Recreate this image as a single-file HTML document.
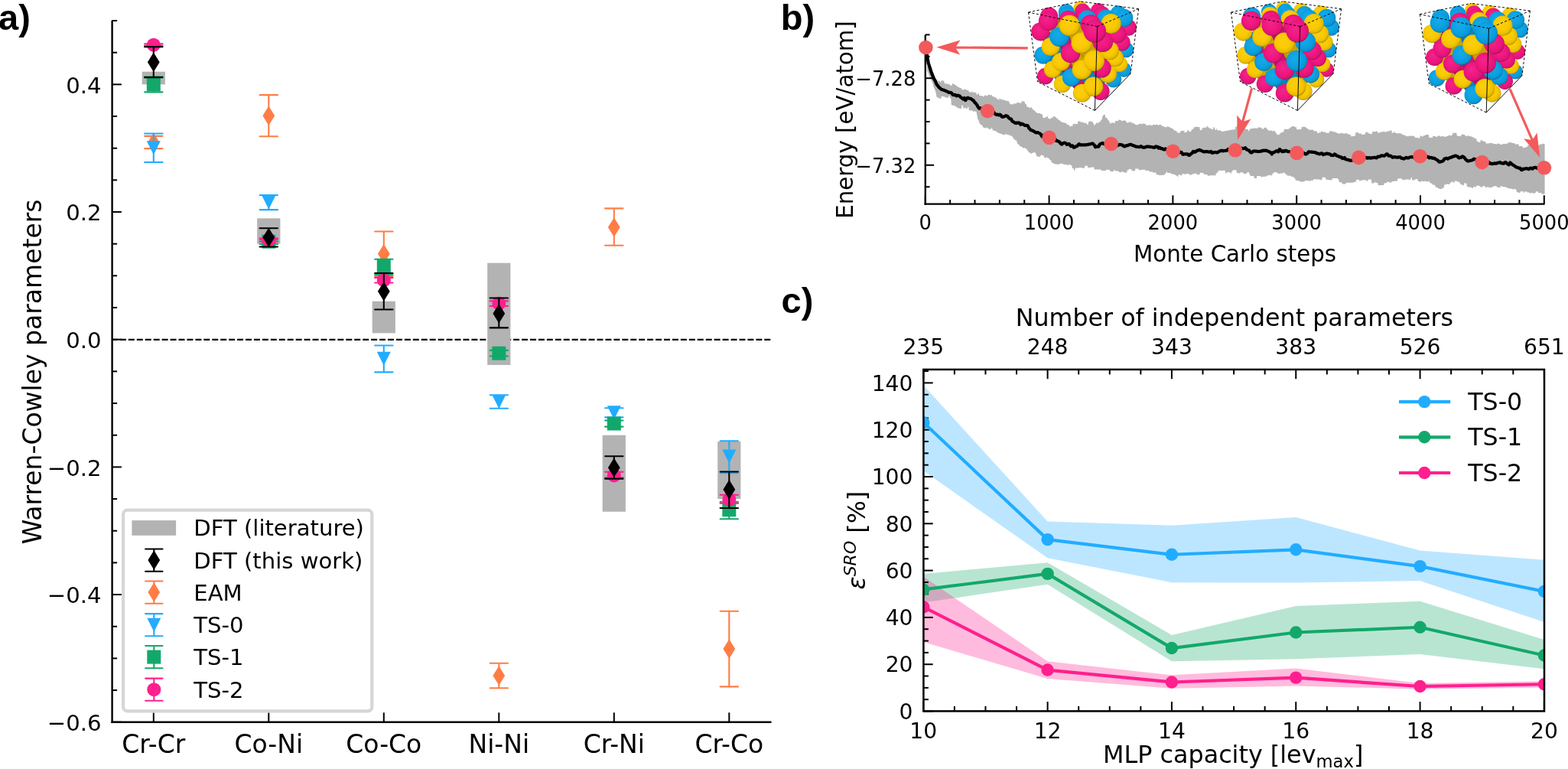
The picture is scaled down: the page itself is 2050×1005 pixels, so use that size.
<!DOCTYPE html>
<html><head><meta charset="utf-8"><style>html,body{margin:0;padding:0;background:#fff;}svg{display:block;}</style></head>
<body><svg width="2050" height="1005" viewBox="0 0 2050 1005"><defs><radialGradient id="gp0" cx="0.47" cy="0.45" r="0.56" fx="0.4" fy="0.36"><stop offset="0" stop-color="#f12689"/><stop offset="0.6" stop-color="#f01680"/><stop offset="0.87" stop-color="#dd1476"/><stop offset="0.96" stop-color="#bb1164"/><stop offset="1" stop-color="#840c46"/></radialGradient><radialGradient id="gp1" cx="0.47" cy="0.45" r="0.56" fx="0.4" fy="0.36"><stop offset="0" stop-color="#c41f6f"/><stop offset="0.6" stop-color="#c01266"/><stop offset="0.87" stop-color="#b1105e"/><stop offset="0.96" stop-color="#960e50"/><stop offset="1" stop-color="#6a0a38"/></radialGradient><radialGradient id="gp2" cx="0.47" cy="0.45" r="0.56" fx="0.4" fy="0.36"><stop offset="0" stop-color="#991857"/><stop offset="0.6" stop-color="#950e4f"/><stop offset="0.87" stop-color="#890d49"/><stop offset="0.96" stop-color="#740b3e"/><stop offset="1" stop-color="#52082c"/></radialGradient><radialGradient id="gy0" cx="0.47" cy="0.45" r="0.56" fx="0.4" fy="0.36"><stop offset="0" stop-color="#face12"/><stop offset="0.6" stop-color="#faca00"/><stop offset="0.87" stop-color="#e6ba00"/><stop offset="0.96" stop-color="#c39e00"/><stop offset="1" stop-color="#8a6f00"/></radialGradient><radialGradient id="gy1" cx="0.47" cy="0.45" r="0.56" fx="0.4" fy="0.36"><stop offset="0" stop-color="#cba70e"/><stop offset="0.6" stop-color="#c8a200"/><stop offset="0.87" stop-color="#b89500"/><stop offset="0.96" stop-color="#9c7e00"/><stop offset="1" stop-color="#6e5900"/></radialGradient><radialGradient id="gy2" cx="0.47" cy="0.45" r="0.56" fx="0.4" fy="0.36"><stop offset="0" stop-color="#9f830b"/><stop offset="0.6" stop-color="#9b7d00"/><stop offset="0.87" stop-color="#8f7300"/><stop offset="0.96" stop-color="#796200"/><stop offset="1" stop-color="#554500"/></radialGradient><radialGradient id="gb0" cx="0.47" cy="0.45" r="0.56" fx="0.4" fy="0.36"><stop offset="0" stop-color="#1ba9e6"/><stop offset="0.6" stop-color="#0aa2e4"/><stop offset="0.87" stop-color="#0995d2"/><stop offset="0.96" stop-color="#087eb2"/><stop offset="1" stop-color="#06597d"/></radialGradient><radialGradient id="gb1" cx="0.47" cy="0.45" r="0.56" fx="0.4" fy="0.36"><stop offset="0" stop-color="#1689ba"/><stop offset="0.6" stop-color="#0882b6"/><stop offset="0.87" stop-color="#0777a8"/><stop offset="0.96" stop-color="#06658e"/><stop offset="1" stop-color="#044764"/></radialGradient><radialGradient id="gb2" cx="0.47" cy="0.45" r="0.56" fx="0.4" fy="0.36"><stop offset="0" stop-color="#116b92"/><stop offset="0.6" stop-color="#06648d"/><stop offset="0.87" stop-color="#065c82"/><stop offset="0.96" stop-color="#054e6e"/><stop offset="1" stop-color="#03374e"/></radialGradient></defs><rect width="2050" height="1005" fill="#fff"/>
<text x="-2" y="39" font-family="'Liberation Sans', Arial, sans-serif" font-size="47" text-anchor="start" font-weight="bold" fill="#000" >a)</text>
<line x1="146" y1="443.9" x2="1007.5" y2="443.9" stroke="#000" stroke-width="2.1" stroke-dasharray="7.95 2.99"/>
<rect x="185.7" y="93.67" width="30.2" height="16.67" fill="#b3b3b3" />
<rect x="336.2" y="285.35" width="30.2" height="33.34" fill="#b3b3b3" />
<rect x="486.7" y="393.7" width="30.2" height="41.67" fill="#b3b3b3" />
<rect x="637.2" y="343.69" width="30.2" height="133.34" fill="#b3b3b3" />
<rect x="787.7" y="568.71" width="30.2" height="100.01" fill="#b3b3b3" />
<rect x="938.2" y="577.04" width="30.2" height="75.01" fill="#b3b3b3" />
<line x1="200.8" y1="194.1" x2="200.8" y2="177.85" stroke="#FF7D45" stroke-width="2.1" />
<line x1="189.1" y1="194.1" x2="212.5" y2="194.1" stroke="#FF7D45" stroke-width="2.1" stroke-linecap="round"/>
<line x1="189.1" y1="177.85" x2="212.5" y2="177.85" stroke="#FF7D45" stroke-width="2.1" stroke-linecap="round"/>
<polygon points="200.8,173.45 208.69,186.18 200.8,198.91 192.91,186.18" fill="#FF7D45" />
<line x1="351.3" y1="178.26" x2="351.3" y2="124.09" stroke="#FF7D45" stroke-width="2.1" />
<line x1="339.6" y1="178.26" x2="363" y2="178.26" stroke="#FF7D45" stroke-width="2.1" stroke-linecap="round"/>
<line x1="339.6" y1="124.09" x2="363" y2="124.09" stroke="#FF7D45" stroke-width="2.1" stroke-linecap="round"/>
<polygon points="351.3,138.45 359.19,151.18 351.3,163.9 343.41,151.18" fill="#FF7D45" />
<line x1="501.8" y1="360.94" x2="501.8" y2="302.52" stroke="#FF7D45" stroke-width="2.1" />
<line x1="490.1" y1="360.94" x2="513.5" y2="360.94" stroke="#FF7D45" stroke-width="2.1" stroke-linecap="round"/>
<line x1="490.1" y1="302.52" x2="513.5" y2="302.52" stroke="#FF7D45" stroke-width="2.1" stroke-linecap="round"/>
<polygon points="501.8,319.05 509.69,331.77 501.8,344.5 493.91,331.77" fill="#FF7D45" />
<line x1="652.3" y1="899.32" x2="652.3" y2="866.82" stroke="#FF7D45" stroke-width="2.1" />
<line x1="640.6" y1="899.32" x2="664" y2="899.32" stroke="#FF7D45" stroke-width="2.1" stroke-linecap="round"/>
<line x1="640.6" y1="866.82" x2="664" y2="866.82" stroke="#FF7D45" stroke-width="2.1" stroke-linecap="round"/>
<polygon points="652.3,870.17 660.19,882.9 652.3,895.63 644.41,882.9" fill="#FF7D45" />
<line x1="802.8" y1="320.77" x2="802.8" y2="272.35" stroke="#FF7D45" stroke-width="2.1" />
<line x1="791.1" y1="320.77" x2="814.5" y2="320.77" stroke="#FF7D45" stroke-width="2.1" stroke-linecap="round"/>
<line x1="791.1" y1="272.35" x2="814.5" y2="272.35" stroke="#FF7D45" stroke-width="2.1" stroke-linecap="round"/>
<polygon points="802.8,284.29 810.69,297.02 802.8,309.75 794.91,297.02" fill="#FF7D45" />
<line x1="953.3" y1="897.4" x2="953.3" y2="798.81" stroke="#FF7D45" stroke-width="2.1" />
<line x1="941.6" y1="897.4" x2="965" y2="897.4" stroke="#FF7D45" stroke-width="2.1" stroke-linecap="round"/>
<line x1="941.6" y1="798.81" x2="965" y2="798.81" stroke="#FF7D45" stroke-width="2.1" stroke-linecap="round"/>
<polygon points="953.3,835.34 961.19,848.07 953.3,860.79 945.41,848.07" fill="#FF7D45" />
<line x1="200.8" y1="212.01" x2="200.8" y2="174.51" stroke="#22ACFF" stroke-width="2.1" />
<line x1="189.1" y1="212.01" x2="212.5" y2="212.01" stroke="#22ACFF" stroke-width="2.1" stroke-linecap="round"/>
<line x1="189.1" y1="174.51" x2="212.5" y2="174.51" stroke="#22ACFF" stroke-width="2.1" stroke-linecap="round"/>
<polygon points="191.8,184.26 209.8,184.26 200.8,202.26" fill="#22ACFF" />
<line x1="351.3" y1="274.1" x2="351.3" y2="254.93" stroke="#22ACFF" stroke-width="2.1" />
<line x1="339.6" y1="274.1" x2="363" y2="274.1" stroke="#22ACFF" stroke-width="2.1" stroke-linecap="round"/>
<line x1="339.6" y1="254.93" x2="363" y2="254.93" stroke="#22ACFF" stroke-width="2.1" stroke-linecap="round"/>
<polygon points="342.3,255.52 360.3,255.52 351.3,273.52" fill="#22ACFF" />
<line x1="501.8" y1="486.37" x2="501.8" y2="451.53" stroke="#22ACFF" stroke-width="2.1" />
<line x1="490.1" y1="486.37" x2="513.5" y2="486.37" stroke="#22ACFF" stroke-width="2.1" stroke-linecap="round"/>
<line x1="490.1" y1="451.53" x2="513.5" y2="451.53" stroke="#22ACFF" stroke-width="2.1" stroke-linecap="round"/>
<polygon points="492.8,459.7 510.8,459.7 501.8,477.7" fill="#22ACFF" />
<line x1="652.3" y1="533.71" x2="652.3" y2="516.21" stroke="#22ACFF" stroke-width="2.1" />
<line x1="640.6" y1="533.71" x2="664" y2="533.71" stroke="#22ACFF" stroke-width="2.1" stroke-linecap="round"/>
<line x1="640.6" y1="516.21" x2="664" y2="516.21" stroke="#22ACFF" stroke-width="2.1" stroke-linecap="round"/>
<polygon points="643.3,516.04 661.3,516.04 652.3,534.04" fill="#22ACFF" />
<line x1="802.8" y1="545.37" x2="802.8" y2="533.21" stroke="#22ACFF" stroke-width="2.1" />
<line x1="791.1" y1="545.37" x2="814.5" y2="545.37" stroke="#22ACFF" stroke-width="2.1" stroke-linecap="round"/>
<line x1="791.1" y1="533.21" x2="814.5" y2="533.21" stroke="#22ACFF" stroke-width="2.1" stroke-linecap="round"/>
<polygon points="793.8,530.29 811.8,530.29 802.8,548.29" fill="#22ACFF" />
<line x1="953.3" y1="618.3" x2="953.3" y2="576.21" stroke="#22ACFF" stroke-width="2.1" />
<line x1="941.6" y1="618.3" x2="965" y2="618.3" stroke="#22ACFF" stroke-width="2.1" stroke-linecap="round"/>
<line x1="941.6" y1="576.21" x2="965" y2="576.21" stroke="#22ACFF" stroke-width="2.1" stroke-linecap="round"/>
<polygon points="944.3,587.55 962.3,587.55 953.3,605.55" fill="#22ACFF" />
<line x1="200.8" y1="120.34" x2="200.8" y2="100.34" stroke="#13A86B" stroke-width="2.1" />
<line x1="189.1" y1="120.34" x2="212.5" y2="120.34" stroke="#13A86B" stroke-width="2.1" stroke-linecap="round"/>
<line x1="189.1" y1="100.34" x2="212.5" y2="100.34" stroke="#13A86B" stroke-width="2.1" stroke-linecap="round"/>
<rect x="191.8" y="101.34" width="18" height="18" fill="#13A86B" />
<line x1="351.3" y1="318.94" x2="351.3" y2="313.19" stroke="#13A86B" stroke-width="2.1" />
<line x1="339.6" y1="318.94" x2="363" y2="318.94" stroke="#13A86B" stroke-width="2.1" stroke-linecap="round"/>
<line x1="339.6" y1="313.19" x2="363" y2="313.19" stroke="#13A86B" stroke-width="2.1" stroke-linecap="round"/>
<rect x="342.3" y="306.69" width="18" height="18" fill="#13A86B" />
<line x1="501.8" y1="358.94" x2="501.8" y2="338.69" stroke="#13A86B" stroke-width="2.1" />
<line x1="490.1" y1="358.94" x2="513.5" y2="358.94" stroke="#13A86B" stroke-width="2.1" stroke-linecap="round"/>
<line x1="490.1" y1="338.69" x2="513.5" y2="338.69" stroke="#13A86B" stroke-width="2.1" stroke-linecap="round"/>
<rect x="492.8" y="339.03" width="18" height="18" fill="#13A86B" />
<line x1="652.3" y1="465.54" x2="652.3" y2="457.87" stroke="#13A86B" stroke-width="2.1" />
<line x1="640.6" y1="465.54" x2="664" y2="465.54" stroke="#13A86B" stroke-width="2.1" stroke-linecap="round"/>
<line x1="640.6" y1="457.87" x2="664" y2="457.87" stroke="#13A86B" stroke-width="2.1" stroke-linecap="round"/>
<rect x="643.3" y="452.7" width="18" height="18" fill="#13A86B" />
<line x1="802.8" y1="557.63" x2="802.8" y2="549.54" stroke="#13A86B" stroke-width="2.1" />
<line x1="791.1" y1="557.63" x2="814.5" y2="557.63" stroke="#13A86B" stroke-width="2.1" stroke-linecap="round"/>
<line x1="791.1" y1="549.54" x2="814.5" y2="549.54" stroke="#13A86B" stroke-width="2.1" stroke-linecap="round"/>
<rect x="793.8" y="544.54" width="18" height="18" fill="#13A86B" />
<line x1="953.3" y1="678.3" x2="953.3" y2="655.72" stroke="#13A86B" stroke-width="2.1" />
<line x1="941.6" y1="678.3" x2="965" y2="678.3" stroke="#13A86B" stroke-width="2.1" stroke-linecap="round"/>
<line x1="941.6" y1="655.72" x2="965" y2="655.72" stroke="#13A86B" stroke-width="2.1" stroke-linecap="round"/>
<rect x="944.3" y="657.22" width="18" height="18" fill="#13A86B" />
<line x1="200.8" y1="59.92" x2="200.8" y2="57.42" stroke="#FF1F8E" stroke-width="2.1" />
<line x1="189.1" y1="59.92" x2="212.5" y2="59.92" stroke="#FF1F8E" stroke-width="2.1" stroke-linecap="round"/>
<line x1="189.1" y1="57.42" x2="212.5" y2="57.42" stroke="#FF1F8E" stroke-width="2.1" stroke-linecap="round"/>
<circle cx="200.8" cy="58.67" r="9" fill="#FF1F8E" />
<line x1="351.3" y1="315.77" x2="351.3" y2="311.61" stroke="#FF1F8E" stroke-width="2.1" />
<line x1="339.6" y1="315.77" x2="363" y2="315.77" stroke="#FF1F8E" stroke-width="2.1" stroke-linecap="round"/>
<line x1="339.6" y1="311.61" x2="363" y2="311.61" stroke="#FF1F8E" stroke-width="2.1" stroke-linecap="round"/>
<circle cx="351.3" cy="313.69" r="9" fill="#FF1F8E" />
<line x1="501.8" y1="369.53" x2="501.8" y2="362.86" stroke="#FF1F8E" stroke-width="2.1" />
<line x1="490.1" y1="369.53" x2="513.5" y2="369.53" stroke="#FF1F8E" stroke-width="2.1" stroke-linecap="round"/>
<line x1="490.1" y1="362.86" x2="513.5" y2="362.86" stroke="#FF1F8E" stroke-width="2.1" stroke-linecap="round"/>
<circle cx="501.8" cy="366.19" r="9" fill="#FF1F8E" />
<line x1="652.3" y1="400.03" x2="652.3" y2="393.36" stroke="#FF1F8E" stroke-width="2.1" />
<line x1="640.6" y1="400.03" x2="664" y2="400.03" stroke="#FF1F8E" stroke-width="2.1" stroke-linecap="round"/>
<line x1="640.6" y1="393.36" x2="664" y2="393.36" stroke="#FF1F8E" stroke-width="2.1" stroke-linecap="round"/>
<circle cx="652.3" cy="396.7" r="9" fill="#FF1F8E" />
<line x1="802.8" y1="624.38" x2="802.8" y2="616.71" stroke="#FF1F8E" stroke-width="2.1" />
<line x1="791.1" y1="624.38" x2="814.5" y2="624.38" stroke="#FF1F8E" stroke-width="2.1" stroke-linecap="round"/>
<line x1="791.1" y1="616.71" x2="814.5" y2="616.71" stroke="#FF1F8E" stroke-width="2.1" stroke-linecap="round"/>
<circle cx="802.8" cy="621.38" r="9" fill="#FF1F8E" />
<line x1="953.3" y1="657.63" x2="953.3" y2="646.72" stroke="#FF1F8E" stroke-width="2.1" />
<line x1="941.6" y1="657.63" x2="965" y2="657.63" stroke="#FF1F8E" stroke-width="2.1" stroke-linecap="round"/>
<line x1="941.6" y1="646.72" x2="965" y2="646.72" stroke="#FF1F8E" stroke-width="2.1" stroke-linecap="round"/>
<circle cx="953.3" cy="652.72" r="9" fill="#FF1F8E" />
<line x1="200.8" y1="101.17" x2="200.8" y2="61.17" stroke="#000" stroke-width="2.1" />
<line x1="189.1" y1="101.17" x2="212.5" y2="101.17" stroke="#000" stroke-width="2.1" stroke-linecap="round"/>
<line x1="189.1" y1="61.17" x2="212.5" y2="61.17" stroke="#000" stroke-width="2.1" stroke-linecap="round"/>
<polygon points="200.8,68.44 208.69,81.17 200.8,93.9 192.91,81.17" fill="#000" />
<line x1="351.3" y1="322.44" x2="351.3" y2="298.27" stroke="#000" stroke-width="2.1" />
<line x1="339.6" y1="322.44" x2="363" y2="322.44" stroke="#000" stroke-width="2.1" stroke-linecap="round"/>
<line x1="339.6" y1="298.27" x2="363" y2="298.27" stroke="#000" stroke-width="2.1" stroke-linecap="round"/>
<polygon points="351.3,297.63 359.19,310.36 351.3,323.08 343.41,310.36" fill="#000" />
<line x1="501.8" y1="404.53" x2="501.8" y2="357.03" stroke="#000" stroke-width="2.1" />
<line x1="490.1" y1="404.53" x2="513.5" y2="404.53" stroke="#000" stroke-width="2.1" stroke-linecap="round"/>
<line x1="490.1" y1="357.03" x2="513.5" y2="357.03" stroke="#000" stroke-width="2.1" stroke-linecap="round"/>
<polygon points="501.8,368.13 509.69,380.86 501.8,393.59 493.91,380.86" fill="#000" />
<line x1="652.3" y1="428.37" x2="652.3" y2="389.53" stroke="#000" stroke-width="2.1" />
<line x1="640.6" y1="428.37" x2="664" y2="428.37" stroke="#000" stroke-width="2.1" stroke-linecap="round"/>
<line x1="640.6" y1="389.53" x2="664" y2="389.53" stroke="#000" stroke-width="2.1" stroke-linecap="round"/>
<polygon points="652.3,397.14 660.19,409.86 652.3,422.59 644.41,409.86" fill="#000" />
<line x1="802.8" y1="625.63" x2="802.8" y2="596.21" stroke="#000" stroke-width="2.1" />
<line x1="791.1" y1="625.63" x2="814.5" y2="625.63" stroke="#000" stroke-width="2.1" stroke-linecap="round"/>
<line x1="791.1" y1="596.21" x2="814.5" y2="596.21" stroke="#000" stroke-width="2.1" stroke-linecap="round"/>
<polygon points="802.8,598.4 810.69,611.13 802.8,623.86 794.91,611.13" fill="#000" />
<line x1="953.3" y1="663.97" x2="953.3" y2="616.55" stroke="#000" stroke-width="2.1" />
<line x1="941.6" y1="663.97" x2="965" y2="663.97" stroke="#000" stroke-width="2.1" stroke-linecap="round"/>
<line x1="941.6" y1="616.55" x2="965" y2="616.55" stroke="#000" stroke-width="2.1" stroke-linecap="round"/>
<polygon points="953.3,627.07 961.19,639.8 953.3,652.53 945.41,639.8" fill="#000" />
<line x1="146.6" y1="26.8" x2="146.6" y2="944.9" stroke="#000" stroke-width="2.4" />
<line x1="145.4" y1="943.7" x2="1008.5" y2="943.7" stroke="#000" stroke-width="2.4" />
<line x1="146.6" y1="943.74" x2="158.9" y2="943.74" stroke="#000" stroke-width="2" />
<text x="132.6" y="954.94" font-family="'DejaVu Sans', sans-serif" font-size="29.2" text-anchor="end" font-weight="normal" fill="#000" >−0.6</text>
<line x1="146.6" y1="902.07" x2="153.1" y2="902.07" stroke="#000" stroke-width="2" />
<line x1="146.6" y1="860.4" x2="153.1" y2="860.4" stroke="#000" stroke-width="2" />
<line x1="146.6" y1="818.73" x2="153.1" y2="818.73" stroke="#000" stroke-width="2" />
<line x1="146.6" y1="777.06" x2="158.9" y2="777.06" stroke="#000" stroke-width="2" />
<text x="132.6" y="788.26" font-family="'DejaVu Sans', sans-serif" font-size="29.2" text-anchor="end" font-weight="normal" fill="#000" >−0.4</text>
<line x1="146.6" y1="735.39" x2="153.1" y2="735.39" stroke="#000" stroke-width="2" />
<line x1="146.6" y1="693.72" x2="153.1" y2="693.72" stroke="#000" stroke-width="2" />
<line x1="146.6" y1="652.05" x2="153.1" y2="652.05" stroke="#000" stroke-width="2" />
<line x1="146.6" y1="610.38" x2="158.9" y2="610.38" stroke="#000" stroke-width="2" />
<text x="132.6" y="621.58" font-family="'DejaVu Sans', sans-serif" font-size="29.2" text-anchor="end" font-weight="normal" fill="#000" >−0.2</text>
<line x1="146.6" y1="568.71" x2="153.1" y2="568.71" stroke="#000" stroke-width="2" />
<line x1="146.6" y1="527.04" x2="153.1" y2="527.04" stroke="#000" stroke-width="2" />
<line x1="146.6" y1="485.37" x2="153.1" y2="485.37" stroke="#000" stroke-width="2" />
<line x1="146.6" y1="443.7" x2="158.9" y2="443.7" stroke="#000" stroke-width="2" />
<text x="132.6" y="454.9" font-family="'DejaVu Sans', sans-serif" font-size="29.2" text-anchor="end" font-weight="normal" fill="#000" >0.0</text>
<line x1="146.6" y1="402.03" x2="153.1" y2="402.03" stroke="#000" stroke-width="2" />
<line x1="146.6" y1="360.36" x2="153.1" y2="360.36" stroke="#000" stroke-width="2" />
<line x1="146.6" y1="318.69" x2="153.1" y2="318.69" stroke="#000" stroke-width="2" />
<line x1="146.6" y1="277.02" x2="158.9" y2="277.02" stroke="#000" stroke-width="2" />
<text x="132.6" y="288.22" font-family="'DejaVu Sans', sans-serif" font-size="29.2" text-anchor="end" font-weight="normal" fill="#000" >0.2</text>
<line x1="146.6" y1="235.35" x2="153.1" y2="235.35" stroke="#000" stroke-width="2" />
<line x1="146.6" y1="193.68" x2="153.1" y2="193.68" stroke="#000" stroke-width="2" />
<line x1="146.6" y1="152.01" x2="153.1" y2="152.01" stroke="#000" stroke-width="2" />
<line x1="146.6" y1="110.34" x2="158.9" y2="110.34" stroke="#000" stroke-width="2" />
<text x="132.6" y="121.54" font-family="'DejaVu Sans', sans-serif" font-size="29.2" text-anchor="end" font-weight="normal" fill="#000" >0.4</text>
<line x1="146.6" y1="68.67" x2="153.1" y2="68.67" stroke="#000" stroke-width="2" />
<line x1="146.6" y1="27" x2="153.1" y2="27" stroke="#000" stroke-width="2" />
<line x1="200.8" y1="943.7" x2="200.8" y2="931.3" stroke="#000" stroke-width="2" />
<text x="200.8" y="983.7" font-family="'DejaVu Sans', sans-serif" font-size="33" text-anchor="middle" font-weight="normal" fill="#000" >Cr-Cr</text>
<line x1="351.3" y1="943.7" x2="351.3" y2="931.3" stroke="#000" stroke-width="2" />
<text x="351.3" y="983.7" font-family="'DejaVu Sans', sans-serif" font-size="33" text-anchor="middle" font-weight="normal" fill="#000" >Co-Ni</text>
<line x1="501.8" y1="943.7" x2="501.8" y2="931.3" stroke="#000" stroke-width="2" />
<text x="501.8" y="983.7" font-family="'DejaVu Sans', sans-serif" font-size="33" text-anchor="middle" font-weight="normal" fill="#000" >Co-Co</text>
<line x1="652.3" y1="943.7" x2="652.3" y2="931.3" stroke="#000" stroke-width="2" />
<text x="652.3" y="983.7" font-family="'DejaVu Sans', sans-serif" font-size="33" text-anchor="middle" font-weight="normal" fill="#000" >Ni-Ni</text>
<line x1="802.8" y1="943.7" x2="802.8" y2="931.3" stroke="#000" stroke-width="2" />
<text x="802.8" y="983.7" font-family="'DejaVu Sans', sans-serif" font-size="33" text-anchor="middle" font-weight="normal" fill="#000" >Cr-Ni</text>
<line x1="953.3" y1="943.7" x2="953.3" y2="931.3" stroke="#000" stroke-width="2" />
<text x="953.3" y="983.7" font-family="'DejaVu Sans', sans-serif" font-size="33" text-anchor="middle" font-weight="normal" fill="#000" >Cr-Co</text>
<text x="0" y="0" font-family="'DejaVu Sans', sans-serif" font-size="33" text-anchor="middle" font-weight="normal" fill="#000" transform="translate(53.7,485.9) rotate(-90)">Warren-Cowley parameters</text>
<rect x="161.1" y="666.6" width="325.2" height="262.7" rx="5.5" ry="5.5" fill="#fff" stroke="#d6d6d6" stroke-width="4.2"/>
<rect x="172.4" y="680.1" width="57.7" height="19.7" fill="#b3b3b3" />
<line x1="201.3" y1="746.7" x2="201.3" y2="717.5" stroke="#000" stroke-width="2.1" />
<line x1="190.1" y1="746.7" x2="212.5" y2="746.7" stroke="#000" stroke-width="2.1" stroke-linecap="round"/>
<line x1="190.1" y1="717.5" x2="212.5" y2="717.5" stroke="#000" stroke-width="2.1" stroke-linecap="round"/>
<polygon points="201.3,719.37 209.19,732.1 201.3,744.83 193.41,732.1" fill="#000" />
<line x1="201.3" y1="788.7" x2="201.3" y2="759.5" stroke="#FF7D45" stroke-width="2.1" />
<line x1="190.1" y1="788.7" x2="212.5" y2="788.7" stroke="#FF7D45" stroke-width="2.1" stroke-linecap="round"/>
<line x1="190.1" y1="759.5" x2="212.5" y2="759.5" stroke="#FF7D45" stroke-width="2.1" stroke-linecap="round"/>
<polygon points="201.3,761.37 209.19,774.1 201.3,786.83 193.41,774.1" fill="#FF7D45" />
<line x1="201.3" y1="831.3" x2="201.3" y2="802.1" stroke="#22ACFF" stroke-width="2.1" />
<line x1="190.1" y1="831.3" x2="212.5" y2="831.3" stroke="#22ACFF" stroke-width="2.1" stroke-linecap="round"/>
<line x1="190.1" y1="802.1" x2="212.5" y2="802.1" stroke="#22ACFF" stroke-width="2.1" stroke-linecap="round"/>
<polygon points="192.3,807.7 210.3,807.7 201.3,825.7" fill="#22ACFF" />
<line x1="201.3" y1="873.2" x2="201.3" y2="844" stroke="#13A86B" stroke-width="2.1" />
<line x1="190.1" y1="873.2" x2="212.5" y2="873.2" stroke="#13A86B" stroke-width="2.1" stroke-linecap="round"/>
<line x1="190.1" y1="844" x2="212.5" y2="844" stroke="#13A86B" stroke-width="2.1" stroke-linecap="round"/>
<rect x="192.3" y="849.6" width="18" height="18" fill="#13A86B" />
<line x1="201.3" y1="915.8" x2="201.3" y2="886.6" stroke="#FF1F8E" stroke-width="2.1" />
<line x1="190.1" y1="915.8" x2="212.5" y2="915.8" stroke="#FF1F8E" stroke-width="2.1" stroke-linecap="round"/>
<line x1="190.1" y1="886.6" x2="212.5" y2="886.6" stroke="#FF1F8E" stroke-width="2.1" stroke-linecap="round"/>
<circle cx="201.3" cy="901.2" r="9" fill="#FF1F8E" />
<text x="253.3" y="700.2" font-family="'DejaVu Sans', sans-serif" font-size="29.1" text-anchor="start" font-weight="normal" fill="#000" >DFT (literature)</text>
<text x="253.3" y="742.7" font-family="'DejaVu Sans', sans-serif" font-size="29.1" text-anchor="start" font-weight="normal" fill="#000" >DFT (this work)</text>
<text x="253.3" y="784.7" font-family="'DejaVu Sans', sans-serif" font-size="29.1" text-anchor="start" font-weight="normal" fill="#000" >EAM</text>
<text x="253.3" y="827.3" font-family="'DejaVu Sans', sans-serif" font-size="29.1" text-anchor="start" font-weight="normal" fill="#000" >TS-0</text>
<text x="253.3" y="869.2" font-family="'DejaVu Sans', sans-serif" font-size="29.1" text-anchor="start" font-weight="normal" fill="#000" >TS-1</text>
<text x="253.3" y="911.8" font-family="'DejaVu Sans', sans-serif" font-size="29.1" text-anchor="start" font-weight="normal" fill="#000" >TS-2</text>
<text x="1020.7" y="39" font-family="'Liberation Sans', Arial, sans-serif" font-size="47" text-anchor="start" font-weight="bold" fill="#000" >b)</text>
<polygon points="1210.3,62 1210.8,64.95 1211.3,67.9 1211.8,77.84 1212.3,86.04 1212.8,87.23 1213.3,85.72 1213.8,86.91 1214.3,88.1 1214.8,89.29 1215.3,90.48 1215.8,91.67 1216.3,92.93 1216.8,94.12 1217.3,95.3 1217.8,96.56 1218.3,96.73 1218.8,96.89 1219.3,97.06 1219.8,97.23 1220.3,97.39 1220.8,97.56 1221.3,99.8 1221.8,99.97 1222.3,100.14 1222.8,102.1 1223.3,102.66 1223.8,103.31 1224.3,103.97 1224.8,104.22 1225.3,104.88 1225.8,105.54 1226.3,106.2 1226.8,106.85 1227.3,104.69 1227.8,105.35 1228.3,106.01 1228.8,106.14 1229.3,107.24 1229.8,107.36 1230.3,107.49 1230.8,104.93 1231.3,105.06 1231.8,105.19 1232.3,105.31 1232.8,105.44 1233.3,105.57 1233.8,105.69 1234.3,105.82 1234.8,109.2 1235.3,109.33 1235.8,109.36 1236.3,109.36 1236.8,109.36 1237.3,109.36 1237.8,109.36 1238.3,109.78 1238.8,109.78 1239.3,109.78 1239.8,109.78 1240.3,109.78 1240.8,110.26 1241.3,110.26 1241.8,110.26 1242.3,111.71 1242.8,111.71 1243.3,111.71 1243.8,111.71 1244.3,111.71 1244.8,111.71 1245.3,109.1 1245.8,109.1 1246.3,109.17 1246.8,109.55 1247.3,109.92 1247.8,110.3 1248.3,110.67 1248.8,111.05 1249.3,111.17 1249.8,111.55 1250.3,111.92 1250.8,112.3 1251.3,112.67 1251.8,113.05 1252.3,113.3 1252.8,113.67 1253.3,114.05 1253.8,114.25 1254.3,114.42 1254.8,114.59 1255.3,114.76 1255.8,114.93 1256.3,115.1 1256.8,115.26 1257.3,116.81 1257.8,116.98 1258.3,117.15 1258.8,117.32 1259.3,117.49 1259.8,117.66 1260.3,116.35 1260.8,116.52 1261.3,116.69 1261.8,116.86 1262.3,117.03 1262.8,117.19 1263.3,117.36 1263.8,117.52 1264.3,117.68 1264.8,117.82 1265.3,117.96 1265.8,118.1 1266.3,118.24 1266.8,119.99 1267.3,120.13 1267.8,120.27 1268.3,120.41 1268.8,120.55 1269.3,120.69 1269.8,120.83 1270.3,119.19 1270.8,119.33 1271.3,119.47 1271.8,120.75 1272.3,120.89 1272.8,121.03 1273.3,120.44 1273.8,120.58 1274.3,120.72 1274.8,120.86 1275.3,121 1275.8,121.14 1276.3,121.28 1276.8,123.69 1277.3,123.78 1277.8,123.86 1278.3,122.16 1278.8,122.25 1279.3,122.33 1279.8,122.41 1280.3,124.81 1280.8,124.89 1281.3,124.98 1281.8,125.06 1282.3,125.14 1282.8,125.23 1283.3,125.31 1283.8,125.39 1284.3,125.48 1284.8,125.56 1285.3,126.1 1285.8,126.18 1286.3,126.27 1286.8,126.35 1287.3,124.26 1287.8,124.41 1288.3,124.58 1288.8,124.75 1289.3,124.92 1289.8,125.09 1290.3,125.25 1290.8,125.42 1291.3,125.59 1291.8,123.39 1292.3,123.55 1292.8,123.72 1293.3,123.89 1293.8,124.06 1294.3,124.22 1294.8,124.39 1295.3,123.89 1295.8,124.06 1296.3,124.23 1296.8,124.39 1297.3,125.83 1297.8,126 1298.3,126.17 1298.8,126.34 1299.3,126.5 1299.8,126.67 1300.3,126.84 1300.8,127.01 1301.3,127.18 1301.8,127.8 1302.3,127.97 1302.8,128.14 1303.3,128.31 1303.8,129.43 1304.3,129.68 1304.8,129.93 1305.3,130.18 1305.8,130.43 1306.3,130.68 1306.8,128.48 1307.3,128.73 1307.8,128.98 1308.3,129.86 1308.8,130.11 1309.3,130.36 1309.8,129.88 1310.3,130.13 1310.8,130.34 1311.3,130.38 1311.8,130.43 1312.3,130.48 1312.8,130.52 1313.3,130.57 1313.8,131.43 1314.3,131.48 1314.8,131.52 1315.3,131.57 1315.8,131.61 1316.3,131.66 1316.8,131.7 1317.3,131.75 1317.8,132.14 1318.3,132.19 1318.8,132.23 1319.3,132.28 1319.8,135.4 1320.3,135.44 1320.8,135.49 1321.3,135.53 1321.8,136.22 1322.3,136.27 1322.8,136.31 1323.3,136.36 1323.8,136.41 1324.3,136.45 1324.8,136.5 1325.3,135.23 1325.8,135.28 1326.3,135.32 1326.8,135.37 1327.3,135.42 1327.8,135.46 1328.3,135.51 1328.8,135.55 1329.3,134.12 1329.8,134.16 1330.3,134.21 1330.8,133.75 1331.3,133.88 1331.8,134 1332.3,134.13 1332.8,134.26 1333.3,134.38 1333.8,134.51 1334.3,134.63 1334.8,134.76 1335.3,134.89 1335.8,131.92 1336.3,132.05 1336.8,132.17 1337.3,132.3 1337.8,132.42 1338.3,132.55 1338.8,132.68 1339.3,132.8 1339.8,132.93 1340.3,135.91 1340.8,136.04 1341.3,136.17 1341.8,136.29 1342.3,139.36 1342.8,139.49 1343.3,139.61 1343.8,139.74 1344.3,139.87 1344.8,140.05 1345.3,140.44 1345.8,140.83 1346.3,141.23 1346.8,141.62 1347.3,139.66 1347.8,140.06 1348.3,140.45 1348.8,140.85 1349.3,141.24 1349.8,142.51 1350.3,142.9 1350.8,143.3 1351.3,143.69 1351.8,144.09 1352.3,144.48 1352.8,144.88 1353.3,145.27 1353.8,145.63 1354.3,146.85 1354.8,147.07 1355.3,147.28 1355.8,147.5 1356.3,147.72 1356.8,147.93 1357.3,148.15 1357.8,148.36 1358.3,147.64 1358.8,147.86 1359.3,148.07 1359.8,148.29 1360.3,148.5 1360.8,148.72 1361.3,148.94 1361.8,149.15 1362.3,149.37 1362.8,149.58 1363.3,153.58 1363.8,153.79 1364.3,154.01 1364.8,154.23 1365.3,153.88 1365.8,154.1 1366.3,154.3 1366.8,152.93 1367.3,153.07 1367.8,153.2 1368.3,153.34 1368.8,151.84 1369.3,151.97 1369.8,152.11 1370.3,154.63 1370.8,154.77 1371.3,154.91 1371.8,155.04 1372.3,155.18 1372.8,155.31 1373.3,155.45 1373.8,155.59 1374.3,153.39 1374.8,153.53 1375.3,153.68 1375.8,153.85 1376.3,154.01 1376.8,154.18 1377.3,151.66 1377.8,151.82 1378.3,151.99 1378.8,152.23 1379.3,152.59 1379.8,152.94 1380.3,153.3 1380.8,153.65 1381.3,154.01 1381.8,154.86 1382.3,155.21 1382.8,155.57 1383.3,155.92 1383.8,156.28 1384.3,156.64 1384.8,156.99 1385.3,157.35 1385.8,157.7 1386.3,158.06 1386.8,158.87 1387.3,159.1 1387.8,159.3 1388.3,159.5 1388.8,159.7 1389.3,159.9 1389.8,160.1 1390.3,160.3 1390.8,160.5 1391.3,160.18 1391.8,160.38 1392.3,160.58 1392.8,160.78 1393.3,160.94 1393.8,161.09 1394.3,161.24 1394.8,162.6 1395.3,162.75 1395.8,162.9 1396.3,163.05 1396.8,163.2 1397.3,163.35 1397.8,163.5 1398.3,165 1398.8,165.15 1399.3,165.13 1399.8,164.94 1400.3,164.87 1400.8,164.8 1401.3,164.74 1401.8,164.67 1402.3,164.6 1402.8,162.02 1403.3,161.95 1403.8,161.89 1404.3,161.82 1404.8,161.75 1405.3,161.69 1405.8,162.18 1406.3,162.12 1406.8,162.05 1407.3,162.15 1407.8,162.08 1408.3,162.02 1408.8,161.95 1409.3,158.75 1409.8,158.68 1410.3,158.61 1410.8,158.55 1411.3,158.48 1411.8,158.41 1412.3,158.35 1412.8,159.91 1413.3,159.84 1413.8,159.78 1414.3,159.71 1414.8,159.64 1415.3,159.58 1415.8,159.51 1416.3,159.44 1416.8,160.97 1417.3,160.9 1417.8,160.82 1418.3,160.74 1418.8,160.67 1419.3,160.59 1419.8,160.52 1420.3,160.44 1420.8,162.8 1421.3,162.73 1421.8,162.65 1422.3,162.58 1422.8,162.5 1423.3,158.68 1423.8,158.61 1424.3,158.53 1424.8,158.78 1425.3,158.71 1425.8,158.63 1426.3,158.56 1426.8,158.48 1427.3,159.36 1427.8,159.29 1428.3,159.21 1428.8,159.4 1429.3,160.65 1429.8,161.9 1430.3,163.15 1430.8,164.4 1431.3,163.19 1431.8,162.69 1432.3,162.19 1432.8,161.69 1433.3,161.19 1433.8,160.69 1434.3,160.19 1434.8,159.69 1435.3,161.15 1435.8,160.65 1436.3,160.15 1436.8,159.65 1437.3,159.86 1437.8,159.26 1438.3,158.66 1438.8,158.06 1439.3,157.46 1439.8,156.86 1440.3,156.25 1440.8,155.65 1441.3,152.15 1441.8,151.55 1442.3,150.95 1442.8,150.35 1443.3,150.11 1443.8,150.11 1444.3,150.11 1444.8,150.11 1445.3,154.11 1445.8,154.11 1446.3,154.11 1446.8,153.29 1447.3,154.29 1447.8,155.29 1448.3,156.29 1448.8,157.29 1449.3,157.73 1449.8,157.78 1450.3,157.83 1450.8,161.15 1451.3,161.2 1451.8,161.25 1452.3,161.31 1452.8,161.36 1453.3,160.23 1453.8,160.28 1454.3,160.34 1454.8,160.39 1455.3,160.44 1455.8,160.5 1456.3,160.55 1456.8,160.6 1457.3,160.66 1457.8,160.71 1458.3,157.86 1458.8,157.91 1459.3,157.96 1459.8,158.02 1460.3,158.07 1460.8,158.12 1461.3,158.18 1461.8,158.23 1462.3,156.5 1462.8,156.56 1463.3,156.61 1463.8,156.66 1464.3,156.72 1464.8,156.77 1465.3,156.82 1465.8,156.88 1466.3,158.43 1466.8,158.48 1467.3,158.53 1467.8,157.32 1468.3,157.38 1468.8,157.43 1469.3,157.48 1469.8,157.54 1470.3,157.59 1470.8,157.64 1471.3,157.69 1471.8,157.74 1472.3,157.79 1472.8,160.25 1473.3,160.3 1473.8,160.35 1474.3,160.4 1474.8,160.45 1475.3,160.5 1475.8,159.36 1476.3,159.41 1476.8,159.46 1477.3,159.51 1477.8,159.56 1478.3,159.61 1478.8,159.66 1479.3,160.1 1479.8,160.15 1480.3,160.2 1480.8,161.26 1481.3,161.31 1481.8,161.36 1482.3,161.41 1482.8,161.46 1483.3,161.51 1483.8,161.56 1484.3,162.9 1484.8,162.95 1485.3,163 1485.8,163.05 1486.3,163.1 1486.8,163.15 1487.3,163.2 1487.8,163.25 1488.3,163.3 1488.8,161.71 1489.3,161.76 1489.8,161.81 1490.3,161.86 1490.8,161.91 1491.3,161.97 1491.8,162.02 1492.3,162.07 1492.8,162.12 1493.3,162.17 1493.8,161.35 1494.3,161.4 1494.8,161.48 1495.3,161.55 1495.8,161.63 1496.3,161.7 1496.8,161.78 1497.3,161.85 1497.8,161.93 1498.3,163.65 1498.8,163.73 1499.3,163.8 1499.8,163.88 1500.3,163.96 1500.8,163.29 1501.3,163.37 1501.8,163.45 1502.3,163.52 1502.8,163.39 1503.3,163.47 1503.8,163.55 1504.3,163.62 1504.8,163.7 1505.3,163.77 1505.8,163.85 1506.3,163.92 1506.8,164 1507.3,162.76 1507.8,162.83 1508.3,162.91 1508.8,162.99 1509.3,163.06 1509.8,163.14 1510.3,163.21 1510.8,163.29 1511.3,163.36 1511.8,162.4 1512.3,162.48 1512.8,162.56 1513.3,162.63 1513.8,163.81 1514.3,163.89 1514.8,163.96 1515.3,162.88 1515.8,162.96 1516.3,163.03 1516.8,163.11 1517.3,163.19 1517.8,163.26 1518.3,163.36 1518.8,163.52 1519.3,164.72 1519.8,164.89 1520.3,165.05 1520.8,165.22 1521.3,165.23 1521.8,165.39 1522.3,165.56 1522.8,165.73 1523.3,165.9 1523.8,166.06 1524.3,166.23 1524.8,166.4 1525.3,166.57 1525.8,165.07 1526.3,165.24 1526.8,165.4 1527.3,165.57 1527.8,165.74 1528.3,165.91 1528.8,166.07 1529.3,166.24 1529.8,166.41 1530.3,167.19 1530.8,167.36 1531.3,167.53 1531.8,167.69 1532.3,167.86 1532.8,168.03 1533.3,168.2 1533.8,168.36 1534.3,169.94 1534.8,170.11 1535.3,170.28 1535.8,170.45 1536.3,170.63 1536.8,170.85 1537.3,171.07 1537.8,171.29 1538.3,171.5 1538.8,172.74 1539.3,172.96 1539.8,173.18 1540.3,173.18 1540.8,174.21 1541.3,174.07 1541.8,173.94 1542.3,173 1542.8,172.86 1543.3,172.73 1543.8,171.21 1544.3,171.08 1544.8,170.94 1545.3,170.81 1545.8,170.67 1546.3,171.22 1546.8,171.09 1547.3,170.95 1547.8,170.82 1548.3,170.68 1548.8,173.42 1549.3,173.29 1549.8,173.15 1550.3,173.02 1550.8,172.88 1551.3,172.75 1551.8,172.62 1552.3,170.6 1552.8,170.47 1553.3,170.33 1553.8,170.2 1554.3,170.06 1554.8,172.39 1555.3,172.25 1555.8,172.12 1556.3,171.98 1556.8,171.85 1557.3,171.72 1557.8,169.3 1558.3,169.17 1558.8,169.04 1559.3,168.92 1559.8,168.82 1560.3,168.72 1560.8,166.41 1561.3,166.31 1561.8,166.21 1562.3,166.11 1562.8,166.01 1563.3,165.91 1563.8,165.81 1564.3,165.7 1564.8,165.94 1565.3,165.84 1565.8,165.84 1566.3,165.88 1566.8,165.92 1567.3,165.96 1567.8,166 1568.3,166.03 1568.8,169.85 1569.3,169.88 1569.8,169.92 1570.3,169.96 1570.8,170 1571.3,170.03 1571.8,167.3 1572.3,167.34 1572.8,167.38 1573.3,167.41 1573.8,166.61 1574.3,166.65 1574.8,166.68 1575.3,166.72 1575.8,166.76 1576.3,166.8 1576.8,166.83 1577.3,166.87 1577.8,164.67 1578.3,164.71 1578.8,164.75 1579.3,166.5 1579.8,166.54 1580.3,166.58 1580.8,166.61 1581.3,167.9 1581.8,167.94 1582.3,167.98 1582.8,168.02 1583.3,168.05 1583.8,168.09 1584.3,169.27 1584.8,169.3 1585.3,169.34 1585.8,169.38 1586.3,166.36 1586.8,166.4 1587.3,166.44 1587.8,166.47 1588.3,169.61 1588.8,169.65 1589.3,169.68 1589.8,169.72 1590.3,169.76 1590.8,167.26 1591.3,168.72 1591.8,170.18 1592.3,170.7 1592.8,170.6 1593.3,170.49 1593.8,170.38 1594.3,170.28 1594.8,170.17 1595.3,170.06 1595.8,171.2 1596.3,171.1 1596.8,170.99 1597.3,172.11 1597.8,172 1598.3,171.89 1598.8,171.79 1599.3,171.68 1599.8,171.57 1600.3,171.47 1600.8,171.36 1601.3,171.39 1601.8,171.28 1602.3,171.18 1602.8,171.07 1603.3,170.96 1603.8,170.86 1604.3,170.75 1604.8,170.64 1605.3,170.54 1605.8,170.48 1606.3,170.38 1606.8,170.27 1607.3,170.16 1607.8,170.06 1608.3,169.95 1608.8,169.84 1609.3,169.74 1609.8,169.63 1610.3,169.58 1610.8,169.5 1611.3,169.45 1611.8,169.41 1612.3,169.36 1612.8,169.31 1613.3,169.26 1613.8,169.22 1614.3,169.17 1614.8,169.12 1615.3,165.84 1615.8,165.79 1616.3,165.79 1616.8,165.85 1617.3,162.3 1617.8,162.35 1618.3,162.41 1618.8,162.47 1619.3,162.53 1619.8,162.58 1620.3,162.64 1620.8,162.89 1621.3,162.95 1621.8,163.01 1622.3,163.07 1622.8,163.12 1623.3,163.18 1623.8,163.24 1624.3,163.3 1624.8,163.35 1625.3,166.54 1625.8,166.59 1626.3,166.65 1626.8,166.71 1627.3,166.77 1627.8,166.82 1628.3,168.62 1628.8,168.68 1629.3,168.73 1629.8,168.79 1630.3,168.85 1630.8,168.85 1631.3,168.91 1631.8,168.96 1632.3,171.45 1632.8,171.36 1633.3,171.06 1633.8,169.06 1634.3,168.76 1634.8,168.46 1635.3,168.16 1635.8,167.85 1636.3,167.55 1636.8,168.62 1637.3,168.31 1637.8,168.01 1638.3,167.71 1638.8,167.41 1639.3,167.38 1639.8,167.43 1640.3,167.47 1640.8,167.51 1641.3,167.59 1641.8,167.63 1642.3,167.68 1642.8,167.72 1643.3,167.76 1643.8,167.8 1644.3,167.85 1644.8,166.34 1645.3,166.39 1645.8,166.43 1646.3,166.47 1646.8,166.51 1647.3,166.56 1647.8,166.6 1648.3,166.64 1648.8,166.69 1649.3,166.73 1649.8,168.58 1650.3,168.62 1650.8,168.66 1651.3,168.7 1651.8,168.75 1652.3,167.05 1652.8,167.09 1653.3,167.13 1653.8,167.18 1654.3,166 1654.8,166.56 1655.3,167.12 1655.8,167.68 1656.3,168.23 1656.8,168.79 1657.3,169.35 1657.8,169.91 1658.3,170.47 1658.8,170.44 1659.3,170.87 1659.8,170.79 1660.3,170.71 1660.8,170.63 1661.3,170.55 1661.8,170.47 1662.3,170.39 1662.8,170.32 1663.3,171.5 1663.8,171.42 1664.3,171.34 1664.8,171.26 1665.3,171.18 1665.8,171.1 1666.3,171.02 1666.8,170.95 1667.3,173.18 1667.8,173.1 1668.3,173.03 1668.8,175.45 1669.3,175.37 1669.8,175.3 1670.3,176.29 1670.8,176.21 1671.3,176.13 1671.8,176.05 1672.3,175.97 1672.8,175.89 1673.3,174.67 1673.8,174.59 1674.3,174.51 1674.8,173.07 1675.3,172.99 1675.8,172.91 1676.3,172.83 1676.8,172.75 1677.3,172.67 1677.8,172.59 1678.3,172.51 1678.8,169.01 1679.3,168.93 1679.8,168.86 1680.3,168.8 1680.8,168.74 1681.3,168.67 1681.8,169.04 1682.3,168.98 1682.8,168.91 1683.3,168.85 1683.8,168.79 1684.3,168.72 1684.8,168.66 1685.3,168.6 1685.8,167.31 1686.3,167.25 1686.8,167.19 1687.3,167.13 1687.8,165.45 1688.3,165.38 1688.8,165.32 1689.3,165.26 1689.8,165.19 1690.3,165.13 1690.8,165.07 1691.3,165.01 1691.8,164.94 1692.3,164.88 1692.8,166.26 1693.3,166.2 1693.8,166.14 1694.3,166.07 1694.8,166.01 1695.3,169.38 1695.8,169.32 1696.3,169.26 1696.8,169.2 1697.3,169.13 1697.8,169.07 1698.3,169.01 1698.8,168.94 1699.3,168.88 1699.8,168.82 1700.3,169.33 1700.8,169.27 1701.3,169.21 1701.8,165.99 1702.3,165.92 1702.8,165.86 1703.3,165.8 1703.8,165.73 1704.3,165.67 1704.8,165.61 1705.3,165.57 1705.8,165.82 1706.3,166.08 1706.8,166.33 1707.3,166.58 1707.8,166.84 1708.3,167.09 1708.8,167.95 1709.3,168.21 1709.8,168.46 1710.3,168.71 1710.8,168.97 1711.3,169.18 1711.8,169.67 1712.3,169.72 1712.8,169.77 1713.3,169.82 1713.8,169.88 1714.3,169.36 1714.8,169.41 1715.3,169.47 1715.8,169.52 1716.3,169.57 1716.8,169.62 1717.3,171.03 1717.8,171.08 1718.3,171.14 1718.8,171.19 1719.3,171.24 1719.8,171.29 1720.3,171.34 1720.8,171.39 1721.3,171.44 1721.8,171.49 1722.3,173.89 1722.8,173.94 1723.3,173.99 1723.8,174.04 1724.3,174.08 1724.8,173.06 1725.3,173.09 1725.8,173.12 1726.3,173.16 1726.8,173.19 1727.3,171.41 1727.8,171.44 1728.3,171.47 1728.8,171.5 1729.3,172.38 1729.8,172.41 1730.3,172.44 1730.8,172.47 1731.3,172.5 1731.8,172.53 1732.3,172.56 1732.8,172.6 1733.3,173.6 1733.8,173.63 1734.3,173.66 1734.8,173.69 1735.3,173.73 1735.8,173.76 1736.3,173.79 1736.8,173.82 1737.3,173.85 1737.8,173.88 1738.3,171.3 1738.8,171.33 1739.3,171.36 1739.8,171.4 1740.3,171.43 1740.8,171.46 1741.3,171.49 1741.8,171.52 1742.3,171.55 1742.8,172.12 1743.3,172.18 1743.8,172.26 1744.3,172.33 1744.8,172.41 1745.3,172.48 1745.8,172.56 1746.3,172.63 1746.8,172.71 1747.3,172.78 1747.8,174.05 1748.3,174.13 1748.8,174.2 1749.3,174.28 1749.8,174.35 1750.3,174.43 1750.8,174.5 1751.3,174.58 1751.8,174.65 1752.3,174.72 1752.8,173.71 1753.3,173.78 1753.8,173.86 1754.3,173.93 1754.8,174.01 1755.3,174.08 1755.8,174.17 1756.3,174.28 1756.8,174.86 1757.3,174.96 1757.8,175.07 1758.3,173.88 1758.8,173.99 1759.3,174.09 1759.8,174.2 1760.3,174.31 1760.8,174.41 1761.3,174.52 1761.8,174.63 1762.3,174.73 1762.8,175.62 1763.3,175.73 1763.8,175.84 1764.3,175.94 1764.8,175.95 1765.3,175.89 1765.8,175.84 1766.3,178.3 1766.8,178.24 1767.3,178.19 1767.8,178.13 1768.3,178.07 1768.8,178.01 1769.3,177.99 1769.8,177.93 1770.3,177.87 1770.8,177.82 1771.3,177.76 1771.8,177.7 1772.3,173.25 1772.8,173.19 1773.3,173.13 1773.8,173.07 1774.3,173.02 1774.8,172.96 1775.3,172.9 1775.8,174.11 1776.3,174.05 1776.8,173.99 1777.3,174.75 1777.8,174.69 1778.3,174.63 1778.8,174.58 1779.3,174.52 1779.8,174.46 1780.3,175.98 1780.8,175.93 1781.3,175.88 1781.8,175.84 1782.3,175.8 1782.8,175.76 1783.3,175.72 1783.8,175.68 1784.3,175.65 1784.8,175.61 1785.3,172.84 1785.8,172.8 1786.3,172.76 1786.8,172.73 1787.3,172.69 1787.8,172.65 1788.3,172.61 1788.8,174.45 1789.3,174.41 1789.8,174.37 1790.3,174.33 1790.8,174.29 1791.3,175.19 1791.8,175.15 1792.3,175.11 1792.8,175.07 1793.3,175.03 1793.8,174.99 1794.3,172.16 1794.8,172.12 1795.3,172.08 1795.8,172.04 1796.3,172 1796.8,171.99 1797.3,171.97 1797.8,171.96 1798.3,171.95 1798.8,171.93 1799.3,171.59 1799.8,171.58 1800.3,171.56 1800.8,171.55 1801.3,173.65 1801.8,173.63 1802.3,173.62 1802.8,173.61 1803.3,173.59 1803.8,173.58 1804.3,172.47 1804.8,172.45 1805.3,172.44 1805.8,172.42 1806.3,172.41 1806.8,172.4 1807.3,172.38 1807.8,172.37 1808.3,172.36 1808.8,171.77 1809.3,171.76 1809.8,171.74 1810.3,172.4 1810.8,172.38 1811.3,172.37 1811.8,172.36 1812.3,172.34 1812.8,172.33 1813.3,172.32 1813.8,171.41 1814.3,171.39 1814.8,171.38 1815.3,171.37 1815.8,171.35 1816.3,171.34 1816.8,171.33 1817.3,171.31 1817.8,170.35 1818.3,170.34 1818.8,170.32 1819.3,170.31 1819.8,173.79 1820.3,173.77 1820.8,173.76 1821.3,173.75 1821.8,173.75 1822.3,172.05 1822.8,172.14 1823.3,172.22 1823.8,173.71 1824.3,173.79 1824.8,173.88 1825.3,173.96 1825.8,174.05 1826.3,174.13 1826.8,174.21 1827.3,174.3 1827.8,174.38 1828.3,173.98 1828.8,174.06 1829.3,174.15 1829.8,174.23 1830.3,174.32 1830.8,174.4 1831.3,174.48 1831.8,174.57 1832.3,174.65 1832.8,174.74 1833.3,176.05 1833.8,176.13 1834.3,176.22 1834.8,176.3 1835.3,176.38 1835.8,176.47 1836.3,176.55 1836.8,176.64 1837.3,176.72 1837.8,177.8 1838.3,177.89 1838.8,177.97 1839.3,178.05 1839.8,178.14 1840.3,178.22 1840.8,178.3 1841.3,178.34 1841.8,177.43 1842.3,177.47 1842.8,177.51 1843.3,177.55 1843.8,177.59 1844.3,177.64 1844.8,177.68 1845.3,177.72 1845.8,177.76 1846.3,177.55 1846.8,177.59 1847.3,177.63 1847.8,177.68 1848.3,177.72 1848.8,177.76 1849.3,177.8 1849.8,179.84 1850.3,179.88 1850.8,179.92 1851.3,179.96 1851.8,180 1852.3,180.05 1852.8,180.09 1853.3,180.13 1853.8,180.33 1854.3,180.37 1854.8,180.41 1855.3,180.45 1855.8,180.49 1856.3,180.54 1856.8,177.15 1857.3,177.19 1857.8,177.23 1858.3,178.21 1858.8,178.25 1859.3,178.29 1859.8,178.33 1860.3,178.38 1860.8,178.42 1861.3,176.85 1861.8,176.89 1862.3,176.94 1862.8,176.98 1863.3,177.02 1863.8,177.06 1864.3,175.84 1864.8,175.88 1865.3,175.92 1865.8,175.96 1866.3,176 1866.8,176.05 1867.3,176.09 1867.8,176.13 1868.3,179.76 1868.8,179.8 1869.3,179.85 1869.8,179.89 1870.3,179.93 1870.8,179.97 1871.3,180.01 1871.8,180.06 1872.3,180.1 1872.8,180.14 1873.3,177.78 1873.8,177.82 1874.3,177.87 1874.8,177.91 1875.3,177.95 1875.8,177.99 1876.3,178.03 1876.8,178.08 1877.3,178.89 1877.8,178.94 1878.3,178.98 1878.8,179.02 1879.3,177.84 1879.8,177.74 1880.3,177.64 1880.8,177.54 1881.3,177.44 1881.8,177.35 1882.3,177.25 1882.8,178.61 1883.3,178.52 1883.8,178.42 1884.3,178.32 1884.8,178.22 1885.3,178.12 1885.8,178.02 1886.3,177.92 1886.8,177.83 1887.3,177.73 1887.8,179 1888.3,178.9 1888.8,178.8 1889.3,178.7 1889.8,178.61 1890.3,178.51 1890.8,178.41 1891.3,178.31 1891.8,178.21 1892.3,178.11 1892.8,177.37 1893.3,177.27 1893.8,177.17 1894.3,177.07 1894.8,176.97 1895.3,176.87 1895.8,176.77 1896.3,177.26 1896.8,177.17 1897.3,177.07 1897.8,176.97 1898.3,176.87 1898.8,176.77 1899.3,173.65 1899.8,173.55 1900.3,173.45 1900.8,174.04 1901.3,173.94 1901.8,173.92 1902.3,173.4 1902.8,173.49 1903.3,173.59 1903.8,173.68 1904.3,173.77 1904.8,177.39 1905.3,177.48 1905.8,177.58 1906.3,177.67 1906.8,177.76 1907.3,177.86 1907.8,177.95 1908.3,178.04 1908.8,178.14 1909.3,177.6 1909.8,177.7 1910.3,177.79 1910.8,175.46 1911.3,175.55 1911.8,175.64 1912.3,175.74 1912.8,175.83 1913.3,175.92 1913.8,176.02 1914.3,176.11 1914.8,176.2 1915.3,176.3 1915.8,177.71 1916.3,177.81 1916.8,177.9 1917.3,178 1917.8,178.09 1918.3,177.18 1918.8,177.28 1919.3,177.37 1919.8,177.46 1920.3,177.56 1920.8,177.89 1921.3,177.98 1921.8,178.07 1922.3,178.17 1922.8,178.26 1923.3,178.35 1923.8,178.45 1924.3,178.54 1924.8,179.07 1925.3,179.16 1925.8,179.28 1926.3,179.51 1926.8,180 1927.3,180.23 1927.8,180.45 1928.3,180.68 1928.8,180.9 1929.3,181.13 1929.8,181.35 1930.3,181.58 1930.8,184.49 1931.3,184.72 1931.8,184.94 1932.3,185.17 1932.8,185.39 1933.3,185.62 1933.8,185.84 1934.3,186.07 1934.8,186.29 1935.3,186.52 1935.8,182.86 1936.3,183.08 1936.8,183.31 1937.3,183.53 1937.8,183.76 1938.3,183.98 1938.8,184.21 1939.3,184.43 1939.8,184.61 1940.3,184.61 1940.8,185.33 1941.3,185.33 1941.8,185.33 1942.3,185.33 1942.8,187.51 1943.3,187.51 1943.8,187.51 1944.3,187.51 1944.8,187.51 1945.3,187.51 1945.8,187.51 1946.3,187.24 1946.8,187.24 1947.3,187.24 1947.8,186.92 1948.3,186.92 1948.8,186.92 1949.3,186.92 1949.8,186.92 1950.3,186.92 1950.8,186.92 1951.3,186.92 1951.8,187.76 1952.3,187.76 1952.8,187.83 1953.3,187.9 1953.8,187.97 1954.3,188.03 1954.8,188.21 1955.3,188.28 1955.8,188.35 1956.3,188.42 1956.8,188.49 1957.3,188.55 1957.8,187.48 1958.3,187.55 1958.8,187.62 1959.3,187.69 1959.8,187.76 1960.3,187.83 1960.8,188.62 1961.3,188.69 1961.8,188.76 1962.3,188.83 1962.8,188.9 1963.3,188.96 1963.8,189.03 1964.3,189.1 1964.8,187.87 1965.3,187.93 1965.8,188 1966.3,188.07 1966.8,188.14 1967.3,188.21 1967.8,188.27 1968.3,187.72 1968.8,187.78 1969.3,187.85 1969.8,187.92 1970.3,187.99 1970.8,188.06 1971.3,186.46 1971.8,186.53 1972.3,186.6 1972.8,186.67 1973.3,186.73 1973.8,185.59 1974.3,185.66 1974.8,185.73 1975.3,185.8 1975.8,186.63 1976.3,186.7 1976.8,186.77 1977.3,186.83 1977.8,186.9 1978.3,186.97 1978.8,187.04 1979.3,187.11 1979.8,187.17 1980.3,187.23 1980.8,188.43 1981.3,188.42 1981.8,188.41 1982.3,188.4 1982.8,188.39 1983.3,188.39 1983.8,188.38 1984.3,188.37 1984.8,188.36 1985.3,188.36 1985.8,190.94 1986.3,190.93 1986.8,190.92 1987.3,190.91 1987.8,190.9 1988.3,190.9 1988.8,190.89 1989.3,190.88 1989.8,190.87 1990.3,190.87 1990.8,193.01 1991.3,193 1991.8,192.99 1992.3,192.99 1992.8,192.98 1993.3,192.97 1993.8,192.96 1994.3,192.16 1994.8,192.15 1995.3,192.14 1995.8,192.13 1996.3,192.13 1996.8,192.12 1997.3,189.64 1997.8,189.63 1998.3,189.63 1998.8,189.62 1999.3,189.61 1999.8,189.6 2000.3,189.6 2000.8,189.59 2001.3,189.58 2001.8,190.9 2002.3,190.9 2002.8,190.89 2003.3,190.88 2003.8,190.87 2004.3,190.87 2004.8,190.86 2005.3,188.76 2005.8,188.75 2006.3,188.74 2006.8,188.73 2007.3,188.73 2007.8,189.49 2008.3,189.48 2008.8,189.47 2009.3,189.97 2009.8,189.97 2010.3,189.96 2010.8,189.95 2011.3,189.94 2011.8,189.94 2012.3,189.93 2012.8,188.47 2013.3,188.46 2013.8,188.45 2014.3,188.44 2014.8,188.44 2015.3,188.43 2015.8,188.42 2016.3,188.41 2016.8,187.81 2017.3,187.81 2017.8,187.8 2018.3,187.79 2018.8,188.24 2019.3,188.23 2019.6,188.23 2019.6,253.78 2019.3,253.77 2018.8,253.76 2018.3,253.75 2017.8,253.74 2017.3,253.73 2016.8,253.72 2016.3,253.71 2015.8,253.7 2015.3,251.98 2014.8,251.97 2014.3,251.96 2013.8,251.95 2013.3,251.94 2012.8,251.92 2012.3,251.91 2011.8,251.9 2011.3,251.89 2010.8,250.31 2010.3,250.3 2009.8,250.29 2009.3,250.28 2008.8,250.27 2008.3,250.26 2007.8,250.25 2007.3,252.63 2006.8,252.62 2006.3,252.61 2005.8,252.6 2005.3,252.59 2004.8,252.58 2004.3,252.56 2003.8,252.55 2003.3,251.64 2002.8,251.63 2002.3,251.62 2001.8,252.7 2001.3,252.69 2000.8,252.68 2000.3,252.67 1999.8,251.6 1999.3,251.59 1998.8,251.58 1998.3,251.57 1997.8,251.56 1997.3,251.55 1996.8,251.54 1996.3,250.34 1995.8,250.33 1995.3,250.32 1994.8,250.59 1994.3,250.58 1993.8,250.57 1993.3,250.56 1992.8,251.8 1992.3,251.79 1991.8,251.78 1991.3,249.65 1990.8,249.64 1990.3,249.6 1989.8,250.5 1989.3,250.32 1988.8,250.13 1988.3,249.95 1987.8,249.77 1987.3,252.3 1986.8,252.12 1986.3,251.94 1985.8,251.75 1985.3,251.57 1984.8,251.39 1984.3,251.21 1983.8,251.03 1983.3,250.84 1982.8,250.66 1982.3,247.63 1981.8,247.45 1981.3,247.27 1980.8,247.09 1980.3,246.9 1979.8,246.72 1979.3,247.6 1978.8,247.42 1978.3,247.24 1977.8,247.05 1977.3,247.2 1976.8,247.01 1976.3,246.84 1975.8,246.71 1975.3,246.57 1974.8,246.44 1974.3,246.3 1973.8,246.55 1973.3,246.42 1972.8,246.28 1972.3,246.15 1971.8,246.02 1971.3,245.88 1970.8,245.22 1970.3,245.09 1969.8,244.96 1969.3,244.82 1968.8,244.69 1968.3,244.55 1967.8,244.42 1967.3,244.28 1966.8,244.15 1966.3,244.02 1965.8,244.26 1965.3,244.13 1964.8,243.99 1964.3,243.67 1963.8,243.54 1963.3,243.4 1962.8,243.27 1962.3,243.13 1961.8,243 1961.3,245.47 1960.8,245.34 1960.3,245.2 1959.8,245.07 1959.3,244.94 1958.8,244.8 1958.3,244.67 1957.8,244.53 1957.3,244.45 1956.8,244.55 1956.3,242.88 1955.8,242.98 1955.3,243.09 1954.8,243.19 1954.3,243.3 1953.8,243.4 1953.3,243.51 1952.8,243.61 1952.3,243.72 1951.8,243.82 1951.3,244.6 1950.8,244.71 1950.3,244.81 1949.8,244.92 1949.3,245.03 1948.8,245.13 1948.3,245.24 1947.8,245.34 1947.3,245.45 1946.8,245.55 1946.3,244.19 1945.8,244.3 1945.3,244.4 1944.8,244.51 1944.3,244.61 1943.8,244.72 1943.3,244.82 1942.8,244.93 1942.3,245.03 1941.8,245 1941.3,243.07 1940.8,243.01 1940.3,242.95 1939.8,242.88 1939.3,242.82 1938.8,242.76 1938.3,244.65 1937.8,244.59 1937.3,244.52 1936.8,244.46 1936.3,244.4 1935.8,244.34 1935.3,244.27 1934.8,242.98 1934.3,242.92 1933.8,242.86 1933.3,242.79 1932.8,242.73 1932.3,242.67 1931.8,242.6 1931.3,242.54 1930.8,242.48 1930.3,242.41 1929.8,244.6 1929.3,244.54 1928.8,244.48 1928.3,244.41 1927.8,244.35 1927.3,244.11 1926.8,244.05 1926.3,243.98 1925.8,245.92 1925.3,245.86 1924.8,245.8 1924.3,245.74 1923.8,244.92 1923.3,244.85 1922.8,244.79 1922.3,244.73 1921.8,244.66 1921.3,244.6 1920.8,244.54 1920.3,244.48 1919.8,244.41 1919.3,244.35 1918.8,243.81 1918.3,243.75 1917.8,243.69 1917.3,239.75 1916.8,239.68 1916.3,239.48 1915.8,239.28 1915.3,239.54 1914.8,239.34 1914.3,239.14 1913.8,242.4 1913.3,242.2 1912.8,242 1912.3,241.8 1911.8,241.6 1911.3,241.4 1910.8,241.2 1910.3,241 1909.8,240.8 1909.3,240.6 1908.8,238.62 1908.3,238.41 1907.8,238.21 1907.3,238.01 1906.8,237.81 1906.3,237.61 1905.8,237.41 1905.3,237.21 1904.8,237.01 1904.3,236.81 1903.8,236.19 1903.3,236.35 1902.8,236.51 1902.3,236.67 1901.8,236.83 1901.3,238.72 1900.8,238.88 1900.3,239.04 1899.8,237.3 1899.3,237.46 1898.8,237.62 1898.3,237.78 1897.8,237.94 1897.3,238.1 1896.8,238.26 1896.3,238.41 1895.8,240.29 1895.3,240.45 1894.8,240.61 1894.3,240.77 1893.8,240.93 1893.3,241.08 1892.8,240.26 1892.3,240.42 1891.8,240.57 1891.3,240.73 1890.8,240.89 1890.3,241.05 1889.8,241.21 1889.3,241.37 1888.8,241.53 1888.3,241.68 1887.8,245.37 1887.3,245.53 1886.8,245.69 1886.3,245.85 1885.8,246.01 1885.3,246.17 1884.8,246.88 1884.3,247.04 1883.8,247.14 1883.3,247.02 1882.8,246.89 1882.3,246.77 1881.8,246.64 1881.3,246.52 1880.8,246.39 1880.3,246.27 1879.8,245.36 1879.3,245.23 1878.8,245.11 1878.3,244.98 1877.8,244.86 1877.3,244.73 1876.8,244.61 1876.3,242.1 1875.8,241.98 1875.3,241.85 1874.8,241.73 1874.3,241.6 1873.8,241.48 1873.3,241.35 1872.8,241.23 1872.3,239.94 1871.8,239.82 1871.3,239.69 1870.8,239.57 1870.3,239.14 1869.8,239.02 1869.3,238.89 1868.8,237 1868.3,236.88 1867.8,236.75 1867.3,236.63 1866.8,237.66 1866.3,237.54 1865.8,237.41 1865.3,237.29 1864.8,237.16 1864.3,237.04 1863.8,236.91 1863.3,236.79 1862.8,236.66 1862.3,236.54 1861.8,237.29 1861.3,237.16 1860.8,237.04 1860.3,236.91 1859.8,236.79 1859.3,236.66 1858.8,236.54 1858.3,236.41 1857.8,237.86 1857.3,237.73 1856.8,237.61 1856.3,237.49 1855.8,237.36 1855.3,237.24 1854.8,237.11 1854.3,236.99 1853.8,236.86 1853.3,234.03 1852.8,234.06 1852.3,234.1 1851.8,234.13 1851.3,234.16 1850.8,234.19 1850.3,234.23 1849.8,234.26 1849.3,235.46 1848.8,235.49 1848.3,235.52 1847.8,235.56 1847.3,235.59 1846.8,235.62 1846.3,235.65 1845.8,232.04 1845.3,232.07 1844.8,232.1 1844.3,234.64 1843.8,234.67 1843.3,234.7 1842.8,234.74 1842.3,234.77 1841.8,234.8 1841.3,234.83 1840.8,234.87 1840.3,234.49 1839.8,234.52 1839.3,234.55 1838.8,234.59 1838.3,234.62 1837.8,234.65 1837.3,234.68 1836.8,235.22 1836.3,235.25 1835.8,235.28 1835.3,235.32 1834.8,235.35 1834.3,234.58 1833.8,234.61 1833.3,234.64 1832.8,234.68 1832.3,233.18 1831.8,233.21 1831.3,233.24 1830.8,233.27 1830.3,233.31 1829.8,233.34 1829.3,233.34 1828.8,233.37 1828.3,233.41 1827.8,233.44 1827.3,233.47 1826.8,236.48 1826.3,236.51 1825.8,236.55 1825.3,236.66 1824.8,236.69 1824.3,236.72 1823.8,236.75 1823.3,236.79 1822.8,236.82 1822.3,236.85 1821.8,236.89 1821.3,236.92 1820.8,236.9 1820.3,236.94 1819.8,236.97 1819.3,238.55 1818.8,238.59 1818.3,238.62 1817.8,238.65 1817.3,238.69 1816.8,238.72 1816.3,237.74 1815.8,237.77 1815.3,237.79 1814.8,237.79 1814.3,237.79 1813.8,237.79 1813.3,237.79 1812.8,239.35 1812.3,239.35 1811.8,239.35 1811.3,239.35 1810.8,239.35 1810.3,239.35 1809.8,239.35 1809.3,241.88 1808.8,241.88 1808.3,241.88 1807.8,241.88 1807.3,241.88 1806.8,241.88 1806.3,241.88 1805.8,241.88 1805.3,241.88 1804.8,241.88 1804.3,242.14 1803.8,242.14 1803.3,242.14 1802.8,242.14 1802.3,242.14 1801.8,242.14 1801.3,239 1800.8,239 1800.3,239 1799.8,239 1799.3,238.14 1798.8,238.14 1798.3,238.14 1797.8,238.14 1797.3,238.14 1796.8,238.14 1796.3,239.61 1795.8,239.61 1795.3,239.61 1794.8,239.61 1794.3,239.61 1793.8,239.61 1793.3,239.61 1792.8,234.55 1792.3,234.55 1791.8,234.55 1791.3,234.55 1790.8,234.55 1790.3,234.55 1789.8,234.57 1789.3,234.61 1788.8,234.65 1788.3,236.44 1787.8,236.49 1787.3,236.53 1786.8,236.57 1786.3,236.61 1785.8,235.25 1785.3,235.29 1784.8,235.34 1784.3,235.14 1783.8,235.18 1783.3,235.22 1782.8,235.26 1782.3,235.31 1781.8,235.35 1781.3,235.39 1780.8,235.43 1780.3,235.47 1779.8,235.52 1779.3,236.25 1778.8,236.29 1778.3,236.33 1777.8,236.37 1777.3,236.41 1776.8,234.64 1776.3,234.68 1775.8,234.72 1775.3,234.77 1774.8,234.81 1774.3,234.84 1773.8,234.87 1773.3,234.89 1772.8,237.77 1772.3,237.79 1771.8,237.82 1771.3,237.85 1770.8,237.87 1770.3,237.9 1769.8,237.93 1769.3,238.68 1768.8,238.7 1768.3,238.73 1767.8,238.76 1767.3,238.78 1766.8,238.81 1766.3,238.84 1765.8,238.86 1765.3,238.89 1764.8,238.92 1764.3,238.58 1763.8,238.61 1763.3,238.64 1762.8,238.66 1762.3,238.69 1761.8,238.72 1761.3,238.74 1760.8,238.77 1760.3,238.8 1759.8,238.82 1759.3,240.38 1758.8,240.41 1758.3,240.43 1757.8,240.46 1757.3,240.49 1756.8,240.51 1756.3,240.54 1755.8,240.57 1755.3,240.59 1754.8,240.62 1754.3,238.23 1753.8,238.26 1753.3,238.28 1752.8,238.31 1752.3,238.34 1751.8,238.36 1751.3,238.23 1750.8,236.97 1750.3,235.71 1749.8,234.45 1749.3,233.19 1748.8,233.18 1748.3,233.17 1747.8,233.16 1747.3,233.02 1746.8,233.01 1746.3,233 1745.8,232.99 1745.3,232.98 1744.8,232.97 1744.3,232.96 1743.8,232.95 1743.3,232.95 1742.8,233.32 1742.3,233.31 1741.8,233.3 1741.3,235.4 1740.8,235.39 1740.3,235.38 1739.8,235.18 1739.3,235.17 1738.8,235.16 1738.3,235.15 1737.8,235.14 1737.3,235.13 1736.8,235.12 1736.3,235.11 1735.8,235.1 1735.3,234.63 1734.8,234.62 1734.3,234.61 1733.8,234.6 1733.3,234.59 1732.8,231.78 1732.3,231.77 1731.8,231.76 1731.3,231.75 1730.8,231.74 1730.3,231.73 1729.8,231.72 1729.3,231.71 1728.8,231.7 1728.3,235.15 1727.8,235.14 1727.3,235.13 1726.8,235.13 1726.3,235.12 1725.8,235.11 1725.3,234.51 1724.8,234.5 1724.3,234.49 1723.8,234.48 1723.3,234.47 1722.8,234.46 1722.3,234.45 1721.8,234.44 1721.3,234.23 1720.8,234.22 1720.3,234.21 1719.8,234.2 1719.3,234.19 1718.8,234.18 1718.3,234.17 1717.8,234.16 1717.3,234.15 1716.8,235.78 1716.3,235.77 1715.8,235.75 1715.3,235.73 1714.8,235.71 1714.3,235.69 1713.8,236.61 1713.3,236.59 1712.8,236.57 1712.3,236.55 1711.8,236.53 1711.3,236.41 1710.8,236.39 1710.3,236.37 1709.8,236.35 1709.3,236.33 1708.8,236.31 1708.3,236.29 1707.8,236.28 1707.3,235.84 1706.8,235.82 1706.3,235.8 1705.8,237.31 1705.3,237.29 1704.8,237.27 1704.3,237.26 1703.8,237.49 1703.3,237.47 1702.8,237.45 1702.3,237.43 1701.8,237.41 1701.3,237.39 1700.8,237.37 1700.3,237.35 1699.8,237.33 1699.3,237.31 1698.8,236.38 1698.3,236.36 1697.8,236.34 1697.3,236.33 1696.8,236.31 1696.3,236.29 1695.8,235.71 1695.3,235.69 1694.8,235.67 1694.3,235.65 1693.8,235.63 1693.3,233.12 1692.8,233.1 1692.3,233.08 1691.8,233.07 1691.3,231.05 1690.8,231.03 1690.3,231.02 1689.8,231 1689.3,230.98 1688.8,230.96 1688.3,230.94 1687.8,229.66 1687.3,229.65 1686.8,229.63 1686.3,229.61 1685.8,229.59 1685.3,229.57 1684.8,229.89 1684.3,229.87 1683.8,229.85 1683.3,229.83 1682.8,229.08 1682.3,228.33 1681.8,227.58 1681.3,228.41 1680.8,227.66 1680.3,226.91 1679.8,226.16 1679.3,225.7 1678.8,225.68 1678.3,225.66 1677.8,225.63 1677.3,225.61 1676.8,226.7 1676.3,226.68 1675.8,226.65 1675.3,226.51 1674.8,226.48 1674.3,226.46 1673.8,226.44 1673.3,226.93 1672.8,226.9 1672.3,226.88 1671.8,226.86 1671.3,226.83 1670.8,226.81 1670.3,226.79 1669.8,225.55 1669.3,225.53 1668.8,225.51 1668.3,224.97 1667.8,224.95 1667.3,224.92 1666.8,224.9 1666.3,225.2 1665.8,225.5 1665.3,225.8 1664.8,226.1 1664.3,226.41 1663.8,226.71 1663.3,228.79 1662.8,229.09 1662.3,229.39 1661.8,229.7 1661.3,228.53 1660.8,228.84 1660.3,229.02 1659.8,229.02 1659.3,229.02 1658.8,229.02 1658.3,229.02 1657.8,229.02 1657.3,229.66 1656.8,229.66 1656.3,229.66 1655.8,229.66 1655.3,230.82 1654.8,230.82 1654.3,230.82 1653.8,230.82 1653.3,230.82 1652.8,230.82 1652.3,230.82 1651.8,230.82 1651.3,230.82 1650.8,231.19 1650.3,231.19 1649.8,231.19 1649.3,231.36 1648.8,231.36 1648.3,231.36 1647.8,230.09 1647.3,230.09 1646.8,230.09 1646.3,230.09 1645.8,230.09 1645.3,230.09 1644.8,230.09 1644.3,230.09 1643.8,230.09 1643.3,230.09 1642.8,232.97 1642.3,232.97 1641.8,232.97 1641.3,232.97 1640.8,232.97 1640.3,232.97 1639.8,232.97 1639.3,230 1638.8,230 1638.3,230 1637.8,230 1637.3,230 1636.8,230 1636.3,230 1635.8,230 1635.3,230 1634.8,229.92 1634.3,228.68 1633.8,227.45 1633.3,227.42 1632.8,224.99 1632.3,224.95 1631.8,224.91 1631.3,225.25 1630.8,225.21 1630.3,225.18 1629.8,227.18 1629.3,227.14 1628.8,227.1 1628.3,227.07 1627.8,227.03 1627.3,226.99 1626.8,226.96 1626.3,226.92 1625.8,226.88 1625.3,225.42 1624.8,225.38 1624.3,225.35 1623.8,225.31 1623.3,225.27 1622.8,225.24 1622.3,225.2 1621.8,225.16 1621.3,226.5 1620.8,226.46 1620.3,226.43 1619.8,226.39 1619.3,226.35 1618.8,226.12 1618.3,226.08 1617.8,226.04 1617.3,226.01 1616.8,225.97 1616.3,222.37 1615.8,222.34 1615.3,222.33 1614.8,222.32 1614.3,222.3 1613.8,222.29 1613.3,222.28 1612.8,222.26 1612.3,222.25 1611.8,222.24 1611.3,224.09 1610.8,224.07 1610.3,224.06 1609.8,226.77 1609.3,226.76 1608.8,226.75 1608.3,225.16 1607.8,225.15 1607.3,225.14 1606.8,225.12 1606.3,225.11 1605.8,225.1 1605.3,225.08 1604.8,225.07 1604.3,225.06 1603.8,225.04 1603.3,226.67 1602.8,226.66 1602.3,226.65 1601.8,222.8 1601.3,222.79 1600.8,222.78 1600.3,222.76 1599.8,222.75 1599.3,222.74 1598.8,222.72 1598.3,222.71 1597.8,222.7 1597.3,222.95 1596.8,222.94 1596.3,222.93 1595.8,222.91 1595.3,222.9 1594.8,222.89 1594.3,222.87 1593.8,222.86 1593.3,222.85 1592.8,223.93 1592.3,224.55 1591.8,225.17 1591.3,225.78 1590.8,226.4 1590.3,226.5 1589.8,226.47 1589.3,229.41 1588.8,229.39 1588.3,229.36 1587.8,229.33 1587.3,229.31 1586.8,229.28 1586.3,229.26 1585.8,229.23 1585.3,229.21 1584.8,229.24 1584.3,229.21 1583.8,229.18 1583.3,229.16 1582.8,229.13 1582.3,229.11 1581.8,229.08 1581.3,229.9 1580.8,229.87 1580.3,229.85 1579.8,229.82 1579.3,229.8 1578.8,229.77 1578.3,228.03 1577.8,228 1577.3,227.98 1576.8,227.95 1576.3,227.92 1575.8,227.9 1575.3,227.87 1574.8,227.85 1574.3,227.82 1573.8,227.8 1573.3,225.98 1572.8,225.96 1572.3,225.93 1571.8,225.9 1571.3,225.88 1570.8,225.85 1570.3,225.83 1569.8,225.8 1569.3,225.78 1568.8,225.75 1568.3,228.44 1567.8,228.41 1567.3,228.38 1566.8,228.36 1566.3,228.33 1565.8,228.31 1565.3,228.34 1564.8,228.59 1564.3,226.57 1563.8,226.82 1563.3,227.07 1562.8,227.32 1562.3,226.5 1561.8,226.75 1561.3,227 1560.8,227.25 1560.3,227.5 1559.8,227.22 1559.3,227.47 1558.8,227.72 1558.3,227.97 1557.8,228.22 1557.3,228.47 1556.8,228.72 1556.3,228.97 1555.8,229.22 1555.3,227.6 1554.8,227.56 1554.3,227.46 1553.8,227.35 1553.3,227.25 1552.8,227.14 1552.3,227.04 1551.8,226.93 1551.3,226.83 1550.8,226.72 1550.3,227.94 1549.8,227.83 1549.3,227.73 1548.8,227.62 1548.3,227.52 1547.8,227.41 1547.3,227.31 1546.8,227.2 1546.3,227.1 1545.8,226.99 1545.3,229.41 1544.8,229.31 1544.3,229.2 1543.8,229.02 1543.3,228.92 1542.8,228.81 1542.3,228.71 1541.8,228.12 1541.3,228.02 1540.8,227.91 1540.3,231.04 1539.8,230.85 1539.3,230.53 1538.8,230.21 1538.3,229.63 1537.8,229.31 1537.3,228.99 1536.8,228.67 1536.3,228.35 1535.8,228.21 1535.3,228.19 1534.8,228.17 1534.3,227.52 1533.8,227.5 1533.3,227.48 1532.8,227.46 1532.3,227.44 1531.8,227.42 1531.3,227.4 1530.8,226.17 1530.3,226.15 1529.8,226.13 1529.3,226.11 1528.8,226.09 1528.3,226.07 1527.8,226.05 1527.3,226.03 1526.8,226.01 1526.3,225.99 1525.8,224.4 1525.3,224.38 1524.8,224.36 1524.3,227.11 1523.8,227.09 1523.3,227.07 1522.8,227.05 1522.3,228.86 1521.8,228.84 1521.3,228.82 1520.8,228.8 1520.3,228.78 1519.8,228.76 1519.3,229.02 1518.8,229 1518.3,228.98 1517.8,228.96 1517.3,228.94 1516.8,228.92 1516.3,228.9 1515.8,228.88 1515.3,228.86 1514.8,228.4 1514.3,228.38 1513.8,228.36 1513.3,228.34 1512.8,228.32 1512.3,228.3 1511.8,228.28 1511.3,225.58 1510.8,225.56 1510.3,225.54 1509.8,225.52 1509.3,225.5 1508.8,225.48 1508.3,225.46 1507.8,225.44 1507.3,225.42 1506.8,224.42 1506.3,224.39 1505.8,224.39 1505.3,224.39 1504.8,224.39 1504.3,224.39 1503.8,224.39 1503.3,224.39 1502.8,224.39 1502.3,223 1501.8,223 1501.3,223 1500.8,223 1500.3,223 1499.8,223 1499.3,223 1498.8,223 1498.3,223 1497.8,223 1497.3,221.65 1496.8,221.65 1496.3,221.65 1495.8,221.65 1495.3,221.65 1494.8,221.65 1494.3,221.65 1493.8,221.65 1493.3,221.65 1492.8,221.65 1492.3,222.29 1491.8,222.29 1491.3,222.29 1490.8,222.29 1490.3,222.29 1489.8,222.29 1489.3,222.29 1488.8,222.29 1488.3,220.53 1487.8,220.53 1487.3,220.53 1486.8,220.53 1486.3,220.53 1485.8,220.53 1485.3,220.53 1484.8,220.53 1484.3,220.53 1483.8,223.45 1483.3,223.45 1482.8,223.45 1482.3,223.44 1481.8,223.39 1481.3,223.34 1480.8,223.29 1480.3,223.24 1479.8,223.19 1479.3,221.27 1478.8,221.22 1478.3,221.17 1477.8,221.12 1477.3,221.07 1476.8,221.02 1476.3,220.97 1475.8,220.92 1475.3,222.43 1474.8,222.38 1474.3,222.32 1473.8,222.27 1473.3,225.72 1472.8,225.67 1472.3,225.62 1471.8,225.57 1471.3,225.52 1470.8,225.47 1470.3,225.42 1469.8,225.38 1469.3,225.35 1468.8,224.51 1468.3,224.48 1467.8,224.44 1467.3,224.4 1466.8,224.36 1466.3,224.33 1465.8,225.21 1465.3,225.17 1464.8,225.13 1464.3,225.09 1463.8,225.06 1463.3,225.02 1462.8,223.89 1462.3,223.85 1461.8,223.81 1461.3,223.62 1460.8,223.58 1460.3,223.54 1459.8,223.5 1459.3,223.47 1458.8,223.43 1458.3,223.39 1457.8,222.26 1457.3,222.22 1456.8,222.18 1456.3,222.14 1455.8,224.19 1455.3,224.16 1454.8,224.12 1454.3,224.08 1453.8,224.04 1453.3,224.01 1452.8,223.97 1452.3,223.93 1451.8,223.89 1451.3,223.86 1450.8,221.98 1450.3,221.94 1449.8,221.9 1449.3,221.86 1448.8,221.82 1448.3,221.79 1447.8,221.75 1447.3,221.71 1446.8,221.67 1446.3,221.65 1445.8,222.98 1445.3,222.97 1444.8,222.96 1444.3,222.94 1443.8,222.93 1443.3,222.92 1442.8,222.91 1442.3,223.06 1441.8,223.05 1441.3,223.03 1440.8,223.02 1440.3,223.01 1439.8,223 1439.3,221.53 1438.8,221.52 1438.3,221.5 1437.8,221.49 1437.3,221.48 1436.8,221.47 1436.3,221.45 1435.8,221.44 1435.3,221.6 1434.8,221.58 1434.3,221.57 1433.8,221.56 1433.3,221.55 1432.8,221.53 1432.3,221.52 1431.8,221.51 1431.3,221.5 1430.8,221.48 1430.3,218.45 1429.8,218.43 1429.3,218.42 1428.8,218.41 1428.3,218.4 1427.8,218.38 1427.3,218.37 1426.8,219.09 1426.3,219.08 1425.8,219.06 1425.3,219.05 1424.8,219.04 1424.3,219.03 1423.8,219.01 1423.3,219 1422.8,218.99 1422.3,218.99 1421.8,216.75 1421.3,216.75 1420.8,216.75 1420.3,216.75 1419.8,216.75 1419.3,216.75 1418.8,216.75 1418.3,216.75 1417.8,219.74 1417.3,219.74 1416.8,219.74 1416.3,219.74 1415.8,219.74 1415.3,219.74 1414.8,219.74 1414.3,218.99 1413.8,218.99 1413.3,218.99 1412.8,218.99 1412.3,218.99 1411.8,218.99 1411.3,218.99 1410.8,218.99 1410.3,219.57 1409.8,219.57 1409.3,219.57 1408.8,219.57 1408.3,219.57 1407.8,219.57 1407.3,219.57 1406.8,219.57 1406.3,219.57 1405.8,219.57 1405.3,223 1404.8,223 1404.3,222.85 1403.8,220.34 1403.3,220.19 1402.8,220.05 1402.3,219.9 1401.8,219.76 1401.3,216.18 1400.8,216.03 1400.3,215.89 1399.8,215.74 1399.3,215.6 1398.8,215.45 1398.3,215.31 1397.8,215.17 1397.3,215.02 1396.8,214.88 1396.3,216.24 1395.8,216 1395.3,215.75 1394.8,215.51 1394.3,215.26 1393.8,215.02 1393.3,214.77 1392.8,214.53 1392.3,215.53 1391.8,215.29 1391.3,215.04 1390.8,214.8 1390.3,214.55 1389.8,214.31 1389.3,214.06 1388.8,213.82 1388.3,213.57 1387.8,213.33 1387.3,214.43 1386.8,214.22 1386.3,214.11 1385.8,214.01 1385.3,213.91 1384.8,214.96 1384.3,214.86 1383.8,214.75 1383.3,214.65 1382.8,214.55 1382.3,214.45 1381.8,214.83 1381.3,214.73 1380.8,214.62 1380.3,214.52 1379.8,214.42 1379.3,214.31 1378.8,214.21 1378.3,214.11 1377.8,214.01 1377.3,213.13 1376.8,213.03 1376.3,212.92 1375.8,212.82 1375.3,212.72 1374.8,212.53 1374.3,209.64 1373.8,209.43 1373.3,209.21 1372.8,209 1372.3,208.79 1371.8,207.06 1371.3,206.85 1370.8,206.63 1370.3,206.42 1369.8,206.2 1369.3,205.99 1368.8,205.77 1368.3,205.56 1367.8,205.35 1367.3,206.87 1366.8,206.66 1366.3,206.44 1365.8,206.23 1365.3,206.02 1364.8,203.64 1364.3,203.42 1363.8,203.21 1363.3,203 1362.8,202.78 1362.3,202.58 1361.8,202.4 1361.3,202.21 1360.8,203.97 1360.3,203.79 1359.8,203.6 1359.3,205.32 1358.8,205.14 1358.3,204.95 1357.8,204.76 1357.3,204.58 1356.8,204.39 1356.3,204.21 1355.8,204.02 1355.3,203.84 1354.8,203.65 1354.3,200.17 1353.8,199.98 1353.3,199.8 1352.8,198.74 1352.3,198.56 1351.8,198.37 1351.3,200.19 1350.8,200.01 1350.3,199.82 1349.8,199.63 1349.3,199.45 1348.8,201.3 1348.3,201.11 1347.8,200.61 1347.3,200.11 1346.8,199.61 1346.3,199.91 1345.8,199.41 1345.3,198.91 1344.8,198.41 1344.3,197.91 1343.8,197.41 1343.3,196.3 1342.8,195.8 1342.3,195.3 1341.8,194.8 1341.3,194.3 1340.8,193.9 1340.3,193.56 1339.8,193.23 1339.3,192.89 1338.8,193.97 1338.3,193.63 1337.8,193.29 1337.3,192.96 1336.8,192.62 1336.3,192.28 1335.8,191.95 1335.3,191.61 1334.8,191.27 1334.3,191.44 1333.8,191.11 1333.3,190.77 1332.8,190.43 1332.3,188.97 1331.8,188.63 1331.3,188.3 1330.8,187.96 1330.3,187.61 1329.8,187.2 1329.3,184.1 1328.8,183.68 1328.3,183.27 1327.8,183.45 1327.3,183.04 1326.8,182.63 1326.3,182.21 1325.8,181.8 1325.3,181.39 1324.8,180.98 1324.3,179.33 1323.8,178.92 1323.3,178.51 1322.8,178.09 1322.3,177.68 1321.8,177.27 1321.3,176.86 1320.8,177.62 1320.3,177.2 1319.8,176.79 1319.3,176.51 1318.8,176.32 1318.3,176.14 1317.8,175.95 1317.3,176.06 1316.8,175.87 1316.3,175.68 1315.8,175.49 1315.3,175.3 1314.8,175.11 1314.3,174.93 1313.8,176.66 1313.3,176.47 1312.8,176.28 1312.3,176.09 1311.8,175.9 1311.3,175.71 1310.8,175.67 1310.3,175.48 1309.8,175.29 1309.3,175.1 1308.8,174.92 1308.3,174.73 1307.8,174.54 1307.3,174.35 1306.8,174.16 1306.3,174.07 1305.8,173.88 1305.3,173.69 1304.8,173.53 1304.3,172.98 1303.8,172.81 1303.3,172.65 1302.8,171.77 1302.3,171.6 1301.8,171.44 1301.3,171.27 1300.8,171.1 1300.3,170.93 1299.8,170.76 1299.3,170.59 1298.8,170.68 1298.3,170.51 1297.8,170.34 1297.3,167.66 1296.8,167.49 1296.3,167.32 1295.8,167.15 1295.3,169.37 1294.8,169.2 1294.3,169 1293.8,168.79 1293.3,168.58 1292.8,168.36 1292.3,168.15 1291.8,167.93 1291.3,167.72 1290.8,167.02 1290.3,166.81 1289.8,166.59 1289.3,166.38 1288.8,167.8 1288.3,167.59 1287.8,167.37 1287.3,167.16 1286.8,166.94 1286.3,166.73 1285.8,166.52 1285.3,166.3 1284.8,166.09 1284.3,163.81 1283.8,163.6 1283.3,163.38 1282.8,163.17 1282.3,162.96 1281.8,162.53 1281.3,161.8 1280.8,161.06 1280.3,160.32 1279.8,157.91 1279.3,157.18 1278.8,156.44 1278.3,155.35 1277.8,152.85 1277.3,150.35 1276.8,147.2 1276.3,146.08 1275.8,145.88 1275.3,145.68 1274.8,145.48 1274.3,145.28 1273.8,145.09 1273.3,146.14 1272.8,145.94 1272.3,145.74 1271.8,144.95 1271.3,144.75 1270.8,144.55 1270.3,144.36 1269.8,144.16 1269.3,143.96 1268.8,143.76 1268.3,144.69 1267.8,144.49 1267.3,144.29 1266.8,144.09 1266.3,139.78 1265.8,139.58 1265.3,139.39 1264.8,142.1 1264.3,141.9 1263.8,141.71 1263.3,141.51 1262.8,141.31 1262.3,141.11 1261.8,140.91 1261.3,140.71 1260.8,141.63 1260.3,141.43 1259.8,141.24 1259.3,141.04 1258.8,137.98 1258.3,137.74 1257.8,137.48 1257.3,137.23 1256.8,142.44 1256.3,142.19 1255.8,141.94 1255.3,141.69 1254.8,141.44 1254.3,141.18 1253.8,141.69 1253.3,141.44 1252.8,141.19 1252.3,140.94 1251.8,140.68 1251.3,140.43 1250.8,139.85 1250.3,139.59 1249.8,139.34 1249.3,139.09 1248.8,138.84 1248.3,138.59 1247.8,138.34 1247.3,138.08 1246.8,137.83 1246.3,137.58 1245.8,138.12 1245.3,137.87 1244.8,137.62 1244.3,137.27 1243.8,136.52 1243.3,129.12 1242.8,128.37 1242.3,127.62 1241.8,126.87 1241.3,126.12 1240.8,125.37 1240.3,125.25 1239.8,128.07 1239.3,127.96 1238.8,127.85 1238.3,127.74 1237.8,127.63 1237.3,127.51 1236.8,127.4 1236.3,127.29 1235.8,127.18 1235.3,127.07 1234.8,126.33 1234.3,126.22 1233.8,126.11 1233.3,126.25 1232.8,126.14 1232.3,126.02 1231.8,125.91 1231.3,125.8 1230.8,125.69 1230.3,129.02 1229.8,128.91 1229.3,128.8 1228.8,128.68 1228.3,128.57 1227.8,128.46 1227.3,128.35 1226.8,127.61 1226.3,127.5 1225.8,127.39 1225.3,127.27 1224.8,127.16 1224.3,125.56 1223.8,122.14 1223.3,120.16 1222.8,118.36 1222.3,117.25 1221.8,116.13 1221.3,115.01 1220.8,113.89 1220.3,112.77 1219.8,109.84 1219.3,108.72 1218.8,107.61 1218.3,106.49 1217.8,105.37 1217.3,104.25 1216.8,103.13 1216.3,102.01 1215.8,101.23 1215.3,99.98 1214.8,98.69 1214.3,97.41 1213.8,95.71 1213.3,94.43 1212.8,94.54 1212.3,93.26 1211.8,84.24 1211.3,73.3 1210.8,67.65 1210.3,62" fill="#b3b3b3" />
<polyline points="1210.3,62 1210.8,64.97 1211.3,67.95 1211.8,70.92 1212.3,73.89 1212.8,76.87 1213.3,79.84 1213.8,82.81 1214.3,84.03 1214.8,85.57 1215.3,87.12 1215.8,88.66 1216.3,90.2 1216.8,91.81 1217.3,93.43 1217.8,94.85 1218.3,96.09 1218.8,97.36 1219.3,98.63 1219.8,99.9 1220.3,101.14 1220.8,102.37 1221.3,103.34 1221.8,104.17 1222.3,105 1222.8,106 1223.3,107.23 1223.8,108.46 1224.3,109.65 1224.8,110.56 1225.3,111.14 1225.8,111.77 1226.3,112.4 1226.8,113.15 1227.3,113.72 1227.8,114.29 1228.3,114.86 1228.8,115.02 1229.3,115.55 1229.8,116.08 1230.3,116.61 1230.8,116.77 1231.3,116.94 1231.8,117.09 1232.3,117.24 1232.8,117.39 1233.3,117.55 1233.8,117.73 1234.3,117.92 1234.8,118.11 1235.3,118.3 1235.8,118.49 1236.3,118.68 1236.8,118.87 1237.3,119.13 1237.8,119.39 1238.3,119.65 1238.8,119.84 1239.3,120.03 1239.8,120.41 1240.3,120.8 1240.8,120.97 1241.3,120.88 1241.8,120.79 1242.3,120.91 1242.8,121.03 1243.3,121.14 1243.8,121.46 1244.3,121.78 1244.8,122.62 1245.3,123.27 1245.8,123.92 1246.3,124.03 1246.8,124.15 1247.3,124.27 1247.8,124.02 1248.3,123.86 1248.8,123.92 1249.3,124.34 1249.8,124.77 1250.3,125.02 1250.8,125.27 1251.3,125.03 1251.8,124.79 1252.3,124.55 1252.8,124.8 1253.3,124.97 1253.8,125.15 1254.3,125.33 1254.8,125.8 1255.3,126.3 1255.8,126.9 1256.3,127.28 1256.8,127.64 1257.3,127.99 1257.8,128.35 1258.3,128.73 1258.8,129.11 1259.3,129.49 1259.8,128.98 1260.3,128.47 1260.8,127.96 1261.3,129.01 1261.8,130.06 1262.3,131.1 1262.8,130.29 1263.3,129.47 1263.8,128.65 1264.3,128.28 1264.8,127.9 1265.3,127.87 1265.8,127.84 1266.3,128.3 1266.8,128.52 1267.3,128.74 1267.8,128.76 1268.3,128.81 1268.8,128.85 1269.3,129.1 1269.8,129.35 1270.3,129.79 1270.8,130.24 1271.3,130.68 1271.8,130.93 1272.3,131.18 1272.8,131.43 1273.3,132.23 1273.8,133.02 1274.3,133.82 1274.8,134.07 1275.3,134.66 1275.8,135.27 1276.3,135.89 1276.8,136.5 1277.3,137.18 1277.8,138.1 1278.3,139.02 1278.8,139.94 1279.3,140.62 1279.8,141.3 1280.3,141.88 1280.8,141.61 1281.3,141.33 1281.8,141.06 1282.3,141.45 1282.8,141.84 1283.3,142.1 1283.8,142.17 1284.3,142.24 1284.8,142.44 1285.3,142.64 1285.8,142.6 1286.3,142.56 1286.8,142.52 1287.3,142.72 1287.8,142.93 1288.3,143.13 1288.8,142.69 1289.3,142.24 1289.8,141.8 1290.3,142.6 1290.8,143.4 1291.3,144.19 1291.8,143.98 1292.3,143.78 1292.8,143.58 1293.3,143.75 1293.8,143.92 1294.3,144.39 1294.8,144.87 1295.3,145.72 1295.8,146.27 1296.3,146.81 1296.8,146.35 1297.3,145.89 1297.8,145.43 1298.3,145.6 1298.8,146.24 1299.3,146.89 1299.8,147.53 1300.3,148.1 1300.8,148.66 1301.3,149.23 1301.8,149.42 1302.3,149.72 1302.8,150.02 1303.3,149.89 1303.8,149.76 1304.3,149.63 1304.8,149.93 1305.3,150.23 1305.8,150.53 1306.3,150.25 1306.8,149.96 1307.3,149.68 1307.8,149.98 1308.3,150.28 1308.8,151.01 1309.3,151.73 1309.8,152.46 1310.3,152.76 1310.8,152.97 1311.3,152.8 1311.8,152.62 1312.3,152.45 1312.8,152.32 1313.3,152.2 1313.8,151.87 1314.3,151.54 1314.8,151.21 1315.3,151.09 1315.8,151.31 1316.3,151.54 1316.8,151.77 1317.3,152.15 1317.8,152.53 1318.3,153.54 1318.8,154.04 1319.3,154.54 1319.8,154.89 1320.3,155.25 1320.8,155.6 1321.3,155.51 1321.8,155.42 1322.3,156.02 1322.8,157.22 1323.3,158.35 1323.8,158.64 1324.3,158.93 1324.8,159.23 1325.3,159.41 1325.8,159.77 1326.3,160.13 1326.8,160.49 1327.3,160.68 1327.8,160.87 1328.3,161.06 1328.8,160.81 1329.3,160.55 1329.8,160.3 1330.3,160.49 1330.8,160.69 1331.3,160.61 1331.8,160.53 1332.3,160.44 1332.8,160.65 1333.3,161.34 1333.8,162.04 1334.3,162.74 1334.8,162.37 1335.3,161.99 1335.8,161.62 1336.3,161.83 1336.8,162.03 1337.3,162.26 1337.8,162.49 1338.3,162.9 1338.8,163.28 1339.3,163.66 1339.8,163.87 1340.3,164.07 1340.8,163.93 1341.3,163.86 1341.8,163.89 1342.3,163.93 1342.8,163.97 1343.3,164.01 1343.8,164.39 1344.3,165.46 1344.8,166.54 1345.3,167.61 1345.8,167.99 1346.3,168.36 1346.8,168.99 1347.3,169.61 1347.8,170.04 1348.3,170.23 1348.8,170.25 1349.3,170.45 1349.8,170.65 1350.3,170.94 1350.8,171.22 1351.3,171.5 1351.8,171.71 1352.3,171.91 1352.8,172.31 1353.3,172.72 1353.8,173.12 1354.3,173.32 1354.8,173.52 1355.3,173.35 1355.8,173.18 1356.3,173.01 1356.8,173.22 1357.3,173.42 1357.8,173.64 1358.3,173.86 1358.8,174.08 1359.3,174.3 1359.8,174.71 1360.3,175.13 1360.8,175.54 1361.3,176.47 1361.8,177.4 1362.3,178.4 1362.8,178.7 1363.3,178.99 1363.8,178.19 1364.3,177.39 1364.8,176.59 1365.3,176.81 1365.8,176.97 1366.3,177.14 1366.8,177.31 1367.3,177.53 1367.8,177.98 1368.3,178.43 1368.8,178.17 1369.3,177.67 1369.8,177.18 1370.3,177.39 1370.8,177.61 1371.3,177.83 1371.8,178.63 1372.3,179.38 1372.8,179.75 1373.3,179.52 1373.8,179.28 1374.3,179.42 1374.8,179.56 1375.3,179.69 1375.8,179.78 1376.3,179.86 1376.8,180.16 1377.3,180.52 1377.8,180.89 1378.3,181.02 1378.8,181.16 1379.3,181.3 1379.8,182.16 1380.3,183.02 1380.8,183.89 1381.3,184.12 1381.8,184.15 1382.3,184.18 1382.8,184.21 1383.3,184.52 1383.8,184.78 1384.3,185.04 1384.8,185.3 1385.3,185.6 1385.8,186.36 1386.3,187.12 1386.8,187.89 1387.3,188.04 1387.8,188.28 1388.3,188.53 1388.8,188.11 1389.3,187.56 1389.8,187.01 1390.3,187.12 1390.8,186.95 1391.3,186.78 1391.8,186.6 1392.3,186.71 1392.8,186.83 1393.3,186.94 1393.8,187.59 1394.3,188.24 1394.8,188.89 1395.3,188.75 1395.8,188.62 1396.3,188.3 1396.8,188.23 1397.3,187.99 1397.8,188.06 1398.3,188.63 1398.8,189.38 1399.3,190.13 1399.8,190.88 1400.3,191.12 1400.8,190.85 1401.3,190.57 1401.8,190.46 1402.3,190.35 1402.8,191.16 1403.3,191.98 1403.8,192.79 1404.3,192.68 1404.8,192.57 1405.3,192.46 1405.8,192.04 1406.3,191.63 1406.8,191.21 1407.3,191.1 1407.8,190.99 1408.3,190.88 1408.8,190.32 1409.3,189.77 1409.8,188.92 1410.3,188.51 1410.8,188.11 1411.3,188.57 1411.8,189.04 1412.3,189.51 1412.8,189.49 1413.3,189.46 1413.8,189.46 1414.3,189.45 1414.8,189.45 1415.3,189.42 1415.8,189.44 1416.3,189.46 1416.8,189.47 1417.3,189.45 1417.8,189.42 1418.3,189.43 1418.8,189.43 1419.3,189.44 1419.8,189.41 1420.3,189.28 1420.8,189.15 1421.3,189.02 1421.8,189 1422.3,188.97 1422.8,188.94 1423.3,188.78 1423.8,188.61 1424.3,188.45 1424.8,188.4 1425.3,188.35 1425.8,188.3 1426.3,188.09 1426.8,187.87 1427.3,187.67 1427.8,187.62 1428.3,187.57 1428.8,187.63 1429.3,188.13 1429.8,188.63 1430.3,189.18 1430.8,189.72 1431.3,190.65 1431.8,191.53 1432.3,192.32 1432.8,191.97 1433.3,191.63 1433.8,191.61 1434.3,191.6 1434.8,191.59 1435.3,191.33 1435.8,191.48 1436.3,191.62 1436.8,190.85 1437.3,189.68 1437.8,188.51 1438.3,188.25 1438.8,187.98 1439.3,187.7 1439.8,187.6 1440.3,187.52 1440.8,187.44 1441.3,187.19 1441.8,186.94 1442.3,187.35 1442.8,187.77 1443.3,188.19 1443.8,188.22 1444.3,188.26 1444.8,188.3 1445.3,188.53 1445.8,188.76 1446.3,188.99 1446.8,189.03 1447.3,189.07 1447.8,189.38 1448.3,189.7 1448.8,190.02 1449.3,190.05 1449.8,189.68 1450.3,189.3 1450.8,188.92 1451.3,188.96 1451.8,188.99 1452.3,189.13 1452.8,189.26 1453.3,189.4 1453.8,189.09 1454.3,188.78 1454.8,188.47 1455.3,188.51 1455.8,188.83 1456.3,189.15 1456.8,189.97 1457.3,190.51 1457.8,191.06 1458.3,191.1 1458.8,191.14 1459.3,191.18 1459.8,190.73 1460.3,190.28 1460.8,189.83 1461.3,189.87 1461.8,189.81 1462.3,189.74 1462.8,189.4 1463.3,189.15 1463.8,188.91 1464.3,188.95 1464.8,189 1465.3,189.05 1465.8,189.23 1466.3,189.42 1466.8,189.6 1467.3,189.65 1467.8,189.7 1468.3,190.2 1468.8,190.69 1469.3,191.19 1469.8,191.24 1470.3,191.29 1470.8,191.34 1471.3,190.95 1471.8,190.56 1472.3,190.17 1472.8,190.22 1473.3,190.27 1473.8,190.32 1474.3,190.13 1474.8,189.95 1475.3,189.54 1475.8,189.36 1476.3,189.19 1476.8,189.24 1477.3,189.1 1477.8,188.96 1478.3,188.81 1478.8,188.86 1479.3,189.21 1479.8,189.55 1480.3,189.9 1480.8,189.95 1481.3,190 1481.8,190.22 1482.3,190.44 1482.8,190.65 1483.3,190.7 1483.8,190.98 1484.3,191.26 1484.8,191.54 1485.3,191.59 1485.8,191.66 1486.3,191.74 1486.8,191.81 1487.3,191.86 1487.8,191.89 1488.3,191.93 1488.8,191.97 1489.3,192.02 1489.8,192.07 1490.3,192.12 1490.8,191.62 1491.3,191.13 1491.8,191.04 1492.3,191.5 1492.8,191.96 1493.3,192.2 1493.8,192.44 1494.3,192.69 1494.8,192.72 1495.3,192.74 1495.8,192.67 1496.3,192.61 1496.8,192.47 1497.3,192.43 1497.8,192.12 1498.3,191.88 1498.8,191.64 1499.3,191.67 1499.8,191.69 1500.3,191.72 1500.8,191.68 1501.3,191.64 1501.8,191.67 1502.3,191.78 1502.8,191.88 1503.3,191.9 1503.8,191.93 1504.3,191.95 1504.8,192.04 1505.3,192.12 1505.8,192.2 1506.3,192.24 1506.8,192.35 1507.3,192.47 1507.8,192.58 1508.3,192.69 1508.8,192.8 1509.3,192.9 1509.8,192.42 1510.3,191.94 1510.8,191.46 1511.3,191.56 1511.8,191.62 1512.3,191.69 1512.8,191.75 1513.3,191.85 1513.8,192.63 1514.3,193.4 1514.8,193.63 1515.3,193.18 1515.8,192.73 1516.3,192.83 1516.8,193.26 1517.3,193.69 1517.8,194.11 1518.3,194.21 1518.8,194.12 1519.3,194.03 1519.8,194.31 1520.3,194.78 1520.8,195.24 1521.3,195.33 1521.8,195.41 1522.3,195.5 1522.8,195.1 1523.3,194.71 1523.8,194.31 1524.3,194.58 1524.8,194.86 1525.3,195.34 1525.8,195.64 1526.3,195.94 1526.8,196.03 1527.3,196.12 1527.8,196.2 1528.3,196.01 1528.8,195.81 1529.3,195.61 1529.8,195.7 1530.3,195.79 1530.8,195.87 1531.3,196.39 1531.8,196.92 1532.3,197.44 1532.8,197.52 1533.3,197.61 1533.8,197.38 1534.3,197.19 1534.8,197 1535.3,197.13 1535.8,197.41 1536.3,197.69 1536.8,197.96 1537.3,198.03 1537.8,198.09 1538.3,198.16 1538.8,198.3 1539.3,198.62 1539.8,198.95 1540.3,199.23 1540.8,199.27 1541.3,199.31 1541.8,199.35 1542.3,199.13 1542.8,198.91 1543.3,198.69 1543.8,198.87 1544.3,199.05 1544.8,199.24 1545.3,200.06 1545.8,200.89 1546.3,201.71 1546.8,201.75 1547.3,201.79 1547.8,201.61 1548.3,201.43 1548.8,201.25 1549.3,201.29 1549.8,201.33 1550.3,201.36 1550.8,201.4 1551.3,201.44 1551.8,201.38 1552.3,201.32 1552.8,201.26 1553.3,201.87 1553.8,202.49 1554.3,202.95 1554.8,202.84 1555.3,202.68 1555.8,202.18 1556.3,201.68 1556.8,201.17 1557.3,200.93 1557.8,200.68 1558.3,200.44 1558.8,199.65 1559.3,198.87 1559.8,198.08 1560.3,197.83 1560.8,198.17 1561.3,198.51 1561.8,198.91 1562.3,198.72 1562.8,198.53 1563.3,198.29 1563.8,197.82 1564.3,197.35 1564.8,196.88 1565.3,196.64 1565.8,196.64 1566.3,196.7 1566.8,196.41 1567.3,196.12 1567.8,195.83 1568.3,195.89 1568.8,196.14 1569.3,196.4 1569.8,196.65 1570.3,196.72 1570.8,196.94 1571.3,197.17 1571.8,197.39 1572.3,197.68 1572.8,197.97 1573.3,198.25 1573.8,198.32 1574.3,198.38 1574.8,198.44 1575.3,198.27 1575.8,198.1 1576.3,198.05 1576.8,198.23 1577.3,198.19 1577.8,198.03 1578.3,198 1578.8,198.19 1579.3,198.38 1579.8,198.45 1580.3,198.51 1580.8,198.57 1581.3,198.55 1581.8,198.54 1582.3,198.3 1582.8,198.14 1583.3,197.99 1583.8,198.6 1584.3,199.22 1584.8,199.84 1585.3,199.9 1585.8,199.63 1586.3,199.37 1586.8,199.1 1587.3,199.16 1587.8,199.22 1588.3,199.13 1588.8,199.03 1589.3,198.93 1589.8,199 1590.3,199.06 1590.8,199.37 1591.3,199.39 1591.8,199.42 1592.3,199.04 1592.8,198.66 1593.3,198.28 1593.8,197.99 1594.3,197.69 1594.8,197.39 1595.3,197.3 1595.8,197.21 1596.3,197.11 1596.8,196.82 1597.3,196.65 1597.8,196.89 1598.3,197.13 1598.8,197.37 1599.3,197.23 1599.8,197.09 1600.3,196.95 1600.8,196.99 1601.3,197.02 1601.8,197.06 1602.3,196.9 1602.8,196.74 1603.3,196.58 1603.8,196.62 1604.3,196.66 1604.8,196.06 1605.3,195.47 1605.8,194.88 1606.3,194.91 1606.8,194.95 1607.3,195.65 1607.8,196.35 1608.3,197.05 1608.8,196.63 1609.3,196.22 1609.8,195.8 1610.3,195.84 1610.8,195.87 1611.3,195.9 1611.8,195.93 1612.3,195.97 1612.8,196.01 1613.3,196.36 1613.8,196.72 1614.3,197.08 1614.8,197.12 1615.3,197.09 1615.8,197.07 1616.3,196.26 1616.8,195.44 1617.3,194.69 1617.8,194.73 1618.3,194.77 1618.8,194.75 1619.3,194.73 1619.8,194.71 1620.3,194.55 1620.8,194.39 1621.3,194.23 1621.8,194.21 1622.3,194.18 1622.8,194.03 1623.3,193.87 1623.8,193.71 1624.3,193.83 1624.8,193.94 1625.3,194.06 1625.8,194.03 1626.3,194.01 1626.8,193.75 1627.3,193.49 1627.8,193.23 1628.3,193.21 1628.8,193.82 1629.3,194.66 1629.8,195.5 1630.3,195.7 1630.8,195.86 1631.3,196.01 1631.8,196.16 1632.3,196.37 1632.8,196.57 1633.3,196.78 1633.8,197.55 1634.3,198.33 1634.8,199.1 1635.3,199.31 1635.8,199.38 1636.3,199.45 1636.8,199.3 1637.3,198.76 1637.8,198.22 1638.3,197.67 1638.8,197.61 1639.3,197.54 1639.8,197.47 1640.3,197.52 1640.8,197.58 1641.3,197.63 1641.8,197.56 1642.3,197.65 1642.8,197.74 1643.3,197.82 1643.8,197.92 1644.3,198.03 1644.8,198.13 1645.3,198.06 1645.8,197.99 1646.3,197.92 1646.8,197.87 1647.3,197.82 1647.8,197.77 1648.3,197.7 1648.8,197.64 1649.3,197.35 1649.8,197.06 1650.3,196.77 1650.8,196.95 1651.3,197.14 1651.8,196.96 1652.3,196.78 1652.8,196.6 1653.3,196.78 1653.8,196.97 1654.3,196.87 1654.8,196.77 1655.3,196.67 1655.8,196.85 1656.3,197.02 1656.8,197.19 1657.3,197.36 1657.8,197.58 1658.3,197.8 1658.8,198.02 1659.3,198.21 1659.8,198.39 1660.3,198.86 1660.8,199.06 1661.3,199.09 1661.8,199.9 1662.3,200.71 1662.8,201.52 1663.3,200.79 1663.8,200.06 1664.3,199.33 1664.8,199.09 1665.3,199 1665.8,198.91 1666.3,198.82 1666.8,198.58 1667.3,198.2 1667.8,197.83 1668.3,197.46 1668.8,197.44 1669.3,197.41 1669.8,197.39 1670.3,197.71 1670.8,198.04 1671.3,198.36 1671.8,197.28 1672.3,196.2 1672.8,195.11 1673.3,195.09 1673.8,195.64 1674.3,196.2 1674.8,196.75 1675.3,197.25 1675.8,197.75 1676.3,198.25 1676.8,197.88 1677.3,197.5 1677.8,197.13 1678.3,197.57 1678.8,198.02 1679.3,197.93 1679.8,197.38 1680.3,196.82 1680.8,196.8 1681.3,196.78 1681.8,196.76 1682.3,197.21 1682.8,197.65 1683.3,198.09 1683.8,198.23 1684.3,198.21 1684.8,198.2 1685.3,198.19 1685.8,198.32 1686.3,198.45 1686.8,198.5 1687.3,198.55 1687.8,198.6 1688.3,198.73 1688.8,199.04 1689.3,199.35 1689.8,199.65 1690.3,199.79 1690.8,199.92 1691.3,200.08 1691.8,200.24 1692.3,200.4 1692.8,200.53 1693.3,200.66 1693.8,200.8 1694.3,200.93 1694.8,201.07 1695.3,201.21 1695.8,201.25 1696.3,201.27 1696.8,201.29 1697.3,201.04 1697.8,200.78 1698.3,200.53 1698.8,200.55 1699.3,200.57 1699.8,200.27 1700.3,199.96 1700.8,199.66 1701.3,199.68 1701.8,199.67 1702.3,199.67 1702.8,199.67 1703.3,199.69 1703.8,199.71 1704.3,199.92 1704.8,200.13 1705.3,200.34 1705.8,200.73 1706.3,201.12 1706.8,201.51 1707.3,201.53 1707.8,201.21 1708.3,200.88 1708.8,200.56 1709.3,200.58 1709.8,199.84 1710.3,199.1 1710.8,198.36 1711.3,198.37 1711.8,198.37 1712.3,198.46 1712.8,198.54 1713.3,198.62 1713.8,198.62 1714.3,198.62 1714.8,198.62 1715.3,198.73 1715.8,198.83 1716.3,198.94 1716.8,198.94 1717.3,198.94 1717.8,199 1718.3,199.05 1718.8,199.1 1719.3,199.1 1719.8,199.1 1720.3,199.52 1720.8,199.93 1721.3,200.34 1721.8,200.34 1722.3,200.34 1722.8,200.45 1723.3,200.56 1723.8,200.87 1724.3,201.08 1724.8,201.28 1725.3,201.27 1725.8,201.26 1726.3,200.98 1726.8,200.7 1727.3,200.43 1727.8,200.43 1728.3,200.43 1728.8,200.99 1729.3,201.55 1729.8,202.11 1730.3,201.87 1730.8,201.62 1731.3,201.37 1731.8,201.37 1732.3,201.37 1732.8,201.37 1733.3,201.12 1733.8,200.86 1734.3,200.6 1734.8,200.6 1735.3,200.6 1735.8,200.88 1736.3,201.15 1736.8,201.28 1737.3,201.22 1737.8,201.16 1738.3,201.28 1738.8,201.56 1739.3,201.84 1739.8,202.43 1740.3,202.87 1740.8,203.05 1741.3,202.93 1741.8,202.8 1742.3,202.93 1742.8,203.06 1743.3,203.18 1743.8,202.62 1744.3,202.05 1744.8,201.48 1745.3,201.61 1745.8,201.74 1746.3,202.29 1746.8,202.85 1747.3,203.4 1747.8,203.58 1748.3,203.75 1748.8,203.92 1749.3,203.94 1749.8,204.17 1750.3,204.4 1750.8,204.74 1751.3,204.96 1751.8,205.19 1752.3,205.41 1752.8,205.54 1753.3,205.53 1753.8,205.42 1754.3,206.09 1754.8,206.76 1755.3,207.19 1755.8,207.05 1756.3,206.9 1756.8,206.61 1757.3,206.32 1757.8,206.03 1758.3,206.75 1758.8,207.46 1759.3,208.18 1759.8,208.27 1760.3,208.37 1760.8,208.51 1761.3,208.65 1761.8,208.79 1762.3,208.88 1762.8,208.97 1763.3,209.03 1763.8,209.25 1764.3,209.47 1764.8,209.7 1765.3,209.78 1765.8,209.86 1766.3,209.94 1766.8,209.84 1767.3,209.65 1767.8,209.46 1768.3,209.27 1768.8,209.18 1769.3,209.08 1769.8,208.99 1770.3,208.95 1770.8,208.92 1771.3,208.88 1771.8,208.79 1772.3,208.42 1772.8,208.05 1773.3,207.69 1773.8,207.6 1774.3,207.47 1774.8,207.35 1775.3,207.22 1775.8,206.72 1776.3,206.21 1776.8,205.76 1777.3,205.76 1777.8,205.76 1778.3,205.76 1778.8,206.21 1779.3,206.67 1779.8,207.53 1780.3,207.94 1780.8,207.36 1781.3,206.36 1781.8,205.36 1782.3,205.36 1782.8,205.36 1783.3,205.72 1783.8,206.08 1784.3,206.44 1784.8,206.24 1785.3,206.05 1785.8,205.85 1786.3,205.85 1786.8,206.06 1787.3,206.28 1787.8,206.54 1788.3,206.59 1788.8,206.45 1789.3,206.25 1789.8,206.05 1790.3,206.03 1790.8,206.25 1791.3,206.48 1791.8,206.71 1792.3,206.68 1792.8,206.52 1793.3,206.36 1793.8,206.2 1794.3,206.17 1794.8,206.15 1795.3,206.13 1795.8,206.02 1796.3,205.91 1796.8,205.81 1797.3,205.78 1797.8,205.76 1798.3,205.98 1798.8,206.2 1799.3,206.42 1799.8,206.39 1800.3,205.85 1800.8,205.28 1801.3,204.71 1801.8,204.72 1802.3,204.73 1802.8,204.73 1803.3,204.66 1803.8,204.58 1804.3,204.51 1804.8,204.11 1805.3,203.71 1805.8,203.31 1806.3,203.24 1806.8,203.35 1807.3,203.45 1807.8,203.56 1808.3,203.48 1808.8,203.63 1809.3,203.77 1809.8,203.7 1810.3,203.42 1810.8,202.88 1811.3,202.56 1811.8,202.23 1812.3,201.81 1812.8,201.38 1813.3,201.23 1813.8,201.42 1814.3,202.12 1814.8,202.82 1815.3,203.52 1815.8,203.72 1816.3,203.64 1816.8,203.57 1817.3,203.49 1817.8,203.69 1818.3,203.89 1818.8,204.08 1819.3,204.67 1819.8,205.11 1820.3,205.56 1820.8,205.58 1821.3,205.6 1821.8,205.42 1822.3,205.25 1822.8,205.07 1823.3,205.09 1823.8,205.22 1824.3,205.35 1824.8,205.49 1825.3,205.51 1825.8,205.53 1826.3,205.55 1826.8,205.64 1827.3,205.73 1827.8,205.65 1828.3,205.51 1828.8,205.34 1829.3,205.34 1829.8,205.34 1830.3,205.36 1830.8,205.38 1831.3,205.88 1831.8,206.39 1832.3,206.89 1832.8,206.91 1833.3,206.93 1833.8,206.95 1834.3,207.18 1834.8,207.36 1835.3,207.53 1835.8,207.3 1836.3,207.07 1836.8,206.69 1837.3,206.51 1837.8,206.17 1838.3,205.98 1838.8,205.79 1839.3,206.04 1839.8,206.28 1840.3,206.52 1840.8,206.48 1841.3,206.44 1841.8,206.4 1842.3,206.05 1842.8,205.71 1843.3,205.37 1843.8,205.33 1844.3,205.28 1844.8,205.24 1845.3,205.22 1845.8,205.2 1846.3,205.17 1846.8,205.13 1847.3,205.09 1847.8,205.05 1848.3,205.56 1848.8,206.08 1849.3,206.59 1849.8,206.55 1850.3,207.07 1850.8,207.59 1851.3,208.11 1851.8,208.07 1852.3,208.02 1852.8,207.52 1853.3,207.01 1853.8,206.51 1854.3,206.47 1854.8,205.48 1855.3,204.5 1855.8,203.51 1856.3,203.63 1856.8,203.76 1857.3,203.91 1857.8,204.02 1858.3,204.13 1858.8,204.02 1859.3,203.9 1859.8,203.78 1860.3,203.89 1860.8,204 1861.3,203.84 1861.8,203.68 1862.3,203.52 1862.8,203.89 1863.3,204.25 1863.8,204.62 1864.3,204.73 1864.8,204.84 1865.3,204.96 1865.8,204.9 1866.3,204.84 1866.8,204.78 1867.3,204.89 1867.8,205.54 1868.3,206.19 1868.8,206.47 1869.3,206.2 1869.8,205.94 1870.3,206.05 1870.8,205.95 1871.3,205.85 1871.8,206.04 1872.3,206.45 1872.8,206.86 1873.3,206.78 1873.8,206.7 1874.3,206.62 1874.8,206.73 1875.3,206.84 1875.8,207.18 1876.3,207.52 1876.8,207.97 1877.3,208.19 1877.8,208.42 1878.3,208.75 1878.8,209.09 1879.3,209.42 1879.8,209.53 1880.3,210.18 1880.8,210.83 1881.3,211.48 1881.8,211.59 1882.3,211.7 1882.8,211.66 1883.3,211.43 1883.8,211.2 1884.3,211.11 1884.8,211.01 1885.3,210.92 1885.8,210.67 1886.3,210.41 1886.8,210.16 1887.3,209.35 1887.8,208.55 1888.3,207.74 1888.8,207.54 1889.3,207.35 1889.8,207.2 1890.3,207.06 1890.8,206.92 1891.3,206.72 1891.8,207.02 1892.3,207.32 1892.8,207.56 1893.3,207.3 1893.8,207.05 1894.3,206.76 1894.8,206.48 1895.3,206.19 1895.8,206.1 1896.3,205.92 1896.8,205.74 1897.3,205.56 1897.8,205.48 1898.3,205.2 1898.8,204.93 1899.3,204.66 1899.8,204.57 1900.3,204.49 1900.8,204.4 1901.3,204.16 1901.8,203.93 1902.3,203.69 1902.8,203.6 1903.3,203.65 1903.8,203.83 1904.3,204.01 1904.8,204.27 1905.3,204.44 1905.8,204.61 1906.3,205.24 1906.8,205.86 1907.3,206.49 1907.8,206.31 1908.3,206.12 1908.8,205.94 1909.3,206.02 1909.8,205.89 1910.3,205.75 1910.8,205.2 1911.3,204.87 1911.8,204.46 1912.3,204.46 1912.8,204.79 1913.3,205.2 1913.8,205.61 1914.3,205.69 1914.8,206.36 1915.3,207.04 1915.8,207.71 1916.3,208.38 1916.8,208.81 1917.3,209.24 1917.8,209.66 1918.3,210.29 1918.8,210.42 1919.3,210.55 1919.8,210.4 1920.3,210.26 1920.8,210.21 1921.3,210.16 1921.8,210.11 1922.3,209.96 1922.8,209.83 1923.3,209.7 1923.8,209.56 1924.3,209.42 1924.8,209.27 1925.3,209.13 1925.8,208.65 1926.3,208.17 1926.8,207.69 1927.3,207.73 1927.8,207.91 1928.3,208.08 1928.8,208.25 1929.3,208.42 1929.8,208.59 1930.3,208.75 1930.8,209.1 1931.3,209.46 1931.8,209.81 1932.3,209.98 1932.8,210.14 1933.3,210.31 1933.8,210.48 1934.3,210.65 1934.8,210.82 1935.3,210.99 1935.8,211.5 1936.3,212.02 1936.8,212.9 1937.3,213.43 1937.8,213.96 1938.3,214.12 1938.8,214.18 1939.3,214.2 1939.8,214.04 1940.3,213.87 1940.8,213.71 1941.3,213.74 1941.8,213.62 1942.3,213.5 1942.8,213.38 1943.3,213.41 1943.8,212.83 1944.3,212.25 1944.8,211.67 1945.3,211.7 1945.8,211.72 1946.3,211.75 1946.8,212.37 1947.3,212.99 1947.8,213.61 1948.3,213.64 1948.8,213.66 1949.3,213.69 1949.8,213.94 1950.3,214.19 1950.8,214.2 1951.3,213.99 1951.8,213.79 1952.3,213.81 1952.8,213.79 1953.3,213.77 1953.8,213.56 1954.3,213.35 1954.8,213.34 1955.3,213.52 1955.8,213.71 1956.3,213.69 1956.8,213.4 1957.3,213.11 1957.8,212.82 1958.3,212.8 1958.8,212.78 1959.3,212.76 1959.8,212.56 1960.3,212.36 1960.8,212.16 1961.3,212.14 1961.8,212.56 1962.3,212.97 1962.8,213.39 1963.3,213.37 1963.8,213.37 1964.3,213.38 1964.8,213.38 1965.3,213.55 1965.8,213.72 1966.3,213.35 1966.8,212.8 1967.3,212.25 1967.8,212.23 1968.3,212.21 1968.8,212.19 1969.3,212.68 1969.8,213.17 1970.3,213.85 1970.8,214.19 1971.3,214.54 1971.8,214.82 1972.3,215.11 1972.8,215.4 1973.3,214.42 1973.8,213.45 1974.3,212.47 1974.8,212.75 1975.3,213.2 1975.8,213.65 1976.3,214.27 1976.8,214.73 1977.3,215.18 1977.8,215.47 1978.3,215.76 1978.8,215.94 1979.3,216.12 1979.8,216.57 1980.3,217.08 1980.8,217.45 1981.3,217.78 1981.8,218.1 1982.3,218.42 1982.8,218.52 1983.3,218.72 1983.8,218.92 1984.3,219.12 1984.8,219.31 1985.3,219.5 1985.8,219.69 1986.3,219.79 1986.8,219.66 1987.3,219.53 1987.8,220.16 1988.3,221.03 1988.8,221.9 1989.3,222 1989.8,222.1 1990.3,221.63 1990.8,221.16 1991.3,220.69 1991.8,220.79 1992.3,220.89 1992.8,220.99 1993.3,220.76 1993.8,220.5 1994.3,220.24 1994.8,220.2 1995.3,220.16 1995.8,220.12 1996.3,220.2 1996.8,220.28 1997.3,220.64 1997.8,220.88 1998.3,221.12 1998.8,221.08 1999.3,220.63 1999.8,220.19 2000.3,219.74 2000.8,219.7 2001.3,219.66 2001.8,219.62 2002.3,219.97 2002.8,220.33 2003.3,220.68 2003.8,220.64 2004.3,220.11 2004.8,219.58 2005.3,219.04 2005.8,219 2006.3,218.97 2006.8,218.93 2007.3,218.88 2007.8,218.82 2008.3,219.07 2008.8,219.32 2009.3,219.57 2009.8,219.56 2010.3,219.73 2010.8,219.89 2011.3,220.05 2011.8,220.05 2012.3,220.05 2012.8,220.16 2013.3,220.26 2013.8,220.26 2014.3,220.16 2014.8,220.06 2015.3,220.06 2015.8,219.92 2016.3,219.78 2016.8,219.64 2017.3,219.64 2017.8,219.93 2018.3,220.22 2018.8,220.51 2019.3,220.51 2019.6,220.04" fill="none" stroke="#000" stroke-width="4.2" stroke-linejoin="round"/>
<line x1="1209.8" y1="45.5" x2="1209.8" y2="267.8" stroke="#000" stroke-width="2.4" />
<line x1="1208.6" y1="266.6" x2="2019.5" y2="266.6" stroke="#000" stroke-width="2.4" />
<line x1="1209.8" y1="45.4" x2="1215.6" y2="45.4" stroke="#000" stroke-width="2" />
<line x1="1209.8" y1="73.8" x2="1215.6" y2="73.8" stroke="#000" stroke-width="2" />
<line x1="1209.8" y1="102.2" x2="1221.1" y2="102.2" stroke="#000" stroke-width="2" />
<text x="1197.4" y="112.2" font-family="'DejaVu Sans', sans-serif" font-size="25.8" text-anchor="end" font-weight="normal" fill="#000" >−7.28</text>
<line x1="1209.8" y1="130.6" x2="1215.6" y2="130.6" stroke="#000" stroke-width="2" />
<line x1="1209.8" y1="159" x2="1215.6" y2="159" stroke="#000" stroke-width="2" />
<line x1="1209.8" y1="187.4" x2="1215.6" y2="187.4" stroke="#000" stroke-width="2" />
<line x1="1209.8" y1="215.8" x2="1221.1" y2="215.8" stroke="#000" stroke-width="2" />
<text x="1197.4" y="225.8" font-family="'DejaVu Sans', sans-serif" font-size="25.8" text-anchor="end" font-weight="normal" fill="#000" >−7.32</text>
<line x1="1209.8" y1="244.2" x2="1215.6" y2="244.2" stroke="#000" stroke-width="2" />
<line x1="1209.8" y1="266.6" x2="1209.8" y2="255.3" stroke="#000" stroke-width="2" />
<text x="1209.8" y="299.6" font-family="'DejaVu Sans', sans-serif" font-size="25.8" text-anchor="middle" font-weight="normal" fill="#000" >0</text>
<line x1="1242.16" y1="266.6" x2="1242.16" y2="261.1" stroke="#000" stroke-width="2" />
<line x1="1274.52" y1="266.6" x2="1274.52" y2="261.1" stroke="#000" stroke-width="2" />
<line x1="1306.88" y1="266.6" x2="1306.88" y2="261.1" stroke="#000" stroke-width="2" />
<line x1="1339.24" y1="266.6" x2="1339.24" y2="261.1" stroke="#000" stroke-width="2" />
<line x1="1371.6" y1="266.6" x2="1371.6" y2="255.3" stroke="#000" stroke-width="2" />
<text x="1371.6" y="299.6" font-family="'DejaVu Sans', sans-serif" font-size="25.8" text-anchor="middle" font-weight="normal" fill="#000" >1000</text>
<line x1="1403.96" y1="266.6" x2="1403.96" y2="261.1" stroke="#000" stroke-width="2" />
<line x1="1436.32" y1="266.6" x2="1436.32" y2="261.1" stroke="#000" stroke-width="2" />
<line x1="1468.68" y1="266.6" x2="1468.68" y2="261.1" stroke="#000" stroke-width="2" />
<line x1="1501.04" y1="266.6" x2="1501.04" y2="261.1" stroke="#000" stroke-width="2" />
<line x1="1533.4" y1="266.6" x2="1533.4" y2="255.3" stroke="#000" stroke-width="2" />
<text x="1533.4" y="299.6" font-family="'DejaVu Sans', sans-serif" font-size="25.8" text-anchor="middle" font-weight="normal" fill="#000" >2000</text>
<line x1="1565.76" y1="266.6" x2="1565.76" y2="261.1" stroke="#000" stroke-width="2" />
<line x1="1598.12" y1="266.6" x2="1598.12" y2="261.1" stroke="#000" stroke-width="2" />
<line x1="1630.48" y1="266.6" x2="1630.48" y2="261.1" stroke="#000" stroke-width="2" />
<line x1="1662.84" y1="266.6" x2="1662.84" y2="261.1" stroke="#000" stroke-width="2" />
<line x1="1695.2" y1="266.6" x2="1695.2" y2="255.3" stroke="#000" stroke-width="2" />
<text x="1695.2" y="299.6" font-family="'DejaVu Sans', sans-serif" font-size="25.8" text-anchor="middle" font-weight="normal" fill="#000" >3000</text>
<line x1="1727.56" y1="266.6" x2="1727.56" y2="261.1" stroke="#000" stroke-width="2" />
<line x1="1759.92" y1="266.6" x2="1759.92" y2="261.1" stroke="#000" stroke-width="2" />
<line x1="1792.28" y1="266.6" x2="1792.28" y2="261.1" stroke="#000" stroke-width="2" />
<line x1="1824.64" y1="266.6" x2="1824.64" y2="261.1" stroke="#000" stroke-width="2" />
<line x1="1857" y1="266.6" x2="1857" y2="255.3" stroke="#000" stroke-width="2" />
<text x="1857" y="299.6" font-family="'DejaVu Sans', sans-serif" font-size="25.8" text-anchor="middle" font-weight="normal" fill="#000" >4000</text>
<line x1="1889.36" y1="266.6" x2="1889.36" y2="261.1" stroke="#000" stroke-width="2" />
<line x1="1921.72" y1="266.6" x2="1921.72" y2="261.1" stroke="#000" stroke-width="2" />
<line x1="1954.08" y1="266.6" x2="1954.08" y2="261.1" stroke="#000" stroke-width="2" />
<line x1="1986.44" y1="266.6" x2="1986.44" y2="261.1" stroke="#000" stroke-width="2" />
<line x1="2018.8" y1="266.6" x2="2018.8" y2="255.3" stroke="#000" stroke-width="2" />
<text x="2018.8" y="299.6" font-family="'DejaVu Sans', sans-serif" font-size="25.8" text-anchor="middle" font-weight="normal" fill="#000" >5000</text>
<circle cx="1210.4" cy="62" r="9.3" fill="#F35A5C" />
<circle cx="1291.1" cy="145" r="9.3" fill="#F35A5C" />
<circle cx="1371.7" cy="179.8" r="9.3" fill="#F35A5C" />
<circle cx="1452.7" cy="188" r="9.3" fill="#F35A5C" />
<circle cx="1533.6" cy="197.7" r="9.3" fill="#F35A5C" />
<circle cx="1614.9" cy="196.3" r="9.3" fill="#F35A5C" />
<circle cx="1695.5" cy="199.9" r="9.3" fill="#F35A5C" />
<circle cx="1776.4" cy="205.9" r="9.3" fill="#F35A5C" />
<circle cx="1856.6" cy="204.2" r="9.3" fill="#F35A5C" />
<circle cx="1937.6" cy="212" r="9.3" fill="#F35A5C" />
<circle cx="2018.9" cy="219.3" r="9.3" fill="#F35A5C" />
<text x="1614.6" y="341.5" font-family="'DejaVu Sans', sans-serif" font-size="29.3" text-anchor="middle" font-weight="normal" fill="#000" >Monte Carlo steps</text>
<text x="0" y="0" font-family="'DejaVu Sans', sans-serif" font-size="29.3" text-anchor="middle" font-weight="normal" fill="#000" transform="translate(1114.7,156.5) rotate(-90)">Energy [eV/atom]</text>
<line x1="1356.5" y1="106.87" x2="1412.4" y2="74.46" stroke="#000" stroke-width="0.95" stroke-dasharray="3.2 2.4"/>
<line x1="1478.11" y1="96.2" x2="1412.4" y2="74.46" stroke="#000" stroke-width="0.95" stroke-dasharray="3.2 2.4"/>
<line x1="1411.52" y1="1.86" x2="1412.4" y2="74.46" stroke="#000" stroke-width="0.95" stroke-dasharray="3.2 2.4"/>
<circle cx="1413.24" cy="61.41" r="8.54" fill="url(#gb2)" />
<circle cx="1423.3" cy="75.96" r="8.56" fill="url(#gy2)" />
<circle cx="1405.51" cy="77.24" r="8.72" fill="url(#gy2)" />
<circle cx="1413" cy="37.17" r="8.94" fill="url(#gy2)" />
<circle cx="1423.53" cy="52.28" r="8.97" fill="url(#gp2)" />
<circle cx="1434.17" cy="67.55" r="9.01" fill="url(#gb2)" />
<circle cx="1444.94" cy="83" r="9.08" fill="url(#gb2)" />
<circle cx="1404.89" cy="53.33" r="9.13" fill="url(#gy2)" />
<circle cx="1412.73" cy="10.54" r="9.39" fill="url(#gy0)" />
<circle cx="1415.56" cy="68.79" r="9.15" fill="url(#gy2)" />
<circle cx="1426.35" cy="84.44" r="9.18" fill="url(#gp2)" />
<circle cx="1396.49" cy="70.06" r="9.35" fill="url(#gp2)" />
<circle cx="1407.31" cy="85.91" r="9.35" fill="url(#gp2)" />
<circle cx="1423.78" cy="26.24" r="9.42" fill="url(#gp1)" />
<circle cx="1387.78" cy="87.41" r="9.59" fill="url(#gp2)" />
<circle cx="1404.21" cy="27.01" r="9.6" fill="url(#gp1)" />
<circle cx="1434.96" cy="42.12" r="9.46" fill="url(#gy2)" />
<circle cx="1469.32" cy="90.93" r="9.75" fill="url(#gb0)" />
<circle cx="1446.27" cy="58.19" r="9.53" fill="url(#gp2)" />
<circle cx="1457.72" cy="74.46" r="9.63" fill="url(#gb1)" />
<circle cx="1415.42" cy="43.1" r="9.61" fill="url(#gb2)" />
<circle cx="1395.37" cy="44.1" r="9.83" fill="url(#gb2)" />
<circle cx="1426.76" cy="59.38" r="9.65" fill="url(#gp2)" />
<circle cx="1449.86" cy="92.56" r="9.79" fill="url(#gy1)" />
<circle cx="1438.24" cy="75.87" r="9.7" fill="url(#gp2)" />
<circle cx="1435.83" cy="14.01" r="9.96" fill="url(#gp0)" />
<circle cx="1406.73" cy="60.6" r="9.83" fill="url(#gp2)" />
<circle cx="1386.18" cy="61.86" r="10.1" fill="url(#gy2)" />
<circle cx="1418.24" cy="77.31" r="9.85" fill="url(#gp2)" />
<circle cx="1415.25" cy="14.66" r="10.13" fill="url(#gp0)" />
<circle cx="1429.89" cy="94.23" r="9.89" fill="url(#gp2)" />
<circle cx="1447.75" cy="30.75" r="10.04" fill="url(#gb1)" />
<circle cx="1376.63" cy="80.31" r="10.4" fill="url(#gb1)" />
<circle cx="1397.71" cy="78.79" r="10.08" fill="url(#gp2)" />
<circle cx="1394.12" cy="15.33" r="10.37" fill="url(#gb0)" />
<circle cx="1459.82" cy="47.71" r="10.14" fill="url(#gp1)" />
<circle cx="1366.69" cy="99.52" r="10.76" fill="url(#gp0)" />
<circle cx="1409.38" cy="95.94" r="10.08" fill="url(#gb2)" />
<circle cx="1472.05" cy="64.89" r="10.27" fill="url(#gb0)" />
<circle cx="1388.33" cy="97.71" r="10.37" fill="url(#gb1)" />
<circle cx="1427.2" cy="31.64" r="10.16" fill="url(#gp1)" />
<circle cx="1406.1" cy="32.54" r="10.37" fill="url(#gb1)" />
<circle cx="1439.3" cy="48.83" r="10.23" fill="url(#gy2)" />
<circle cx="1384.4" cy="33.48" r="10.66" fill="url(#gy1)" />
<circle cx="1463.99" cy="83.9" r="10.44" fill="url(#gy0)" />
<circle cx="1451.57" cy="66.25" r="10.32" fill="url(#gb1)" />
<circle cx="1462.15" cy="17.96" r="10.71" fill="url(#gb0)" />
<circle cx="1418.23" cy="49.98" r="10.39" fill="url(#gy2)" />
<circle cx="1455.59" cy="103.7" r="10.62" fill="url(#gb0)" />
<circle cx="1475.08" cy="35.91" r="10.86" fill="url(#gp0)" />
<circle cx="1374.28" cy="52.38" r="10.99" fill="url(#gb1)" />
<circle cx="1396.56" cy="51.17" r="10.64" fill="url(#gy2)" />
<circle cx="1430.52" cy="67.65" r="10.43" fill="url(#gy2)" />
<circle cx="1442.97" cy="85.56" r="10.51" fill="url(#gp1)" />
<circle cx="1440.5" cy="18.71" r="10.81" fill="url(#gp0)" />
<circle cx="1363.72" cy="72.1" r="11.38" fill="url(#gb0)" />
<circle cx="1408.88" cy="69.09" r="10.64" fill="url(#gp2)" />
<circle cx="1434.02" cy="105.67" r="10.72" fill="url(#gb1)" />
<circle cx="1386.62" cy="70.57" r="10.96" fill="url(#gb1)" />
<circle cx="1421.36" cy="87.26" r="10.67" fill="url(#gy2)" />
<circle cx="1453.47" cy="36.93" r="10.91" fill="url(#gp1)" />
<circle cx="1376.25" cy="90.81" r="11.33" fill="url(#gy0)" />
<circle cx="1399.13" cy="89.01" r="10.94" fill="url(#gp1)" />
<circle cx="1418.21" cy="19.49" r="10.99" fill="url(#gp0)" />
<circle cx="1411.82" cy="107.7" r="10.93" fill="url(#gp1)" />
<circle cx="1466.62" cy="55.39" r="11.04" fill="url(#gp0)" />
<circle cx="1388.96" cy="109.79" r="11.28" fill="url(#gy0)" />
<circle cx="1371.64" cy="21.12" r="11.66" fill="url(#gp0)" />
<circle cx="1395.27" cy="20.29" r="11.27" fill="url(#gb0)" />
<circle cx="1431.22" cy="37.98" r="11.04" fill="url(#gp1)" />
<circle cx="1444.41" cy="56.72" r="11.12" fill="url(#gp1)" />
<circle cx="1360.38" cy="41.32" r="12.09" fill="url(#gp0)" />
<circle cx="1457.79" cy="75.74" r="11.25" fill="url(#gy0)" />
<circle cx="1408.31" cy="39.06" r="11.28" fill="url(#gy1)" />
<circle cx="1384.71" cy="40.17" r="11.62" fill="url(#gy1)" />
<circle cx="1469.58" cy="23.38" r="11.72" fill="url(#gb0)" />
<circle cx="1421.54" cy="58.1" r="11.3" fill="url(#gb2)" />
<circle cx="1448.56" cy="97" r="11.47" fill="url(#gy0)" />
<circle cx="1434.95" cy="77.41" r="11.36" fill="url(#gp1)" />
<circle cx="1373.66" cy="60.97" r="12.03" fill="url(#gy0)" />
<circle cx="1397.96" cy="59.51" r="11.6" fill="url(#gp1)" />
<circle cx="1438.91" cy="119.23" r="11.71" fill="url(#gp0)" />
<circle cx="1411.41" cy="79.13" r="11.6" fill="url(#gy1)" />
<circle cx="1425.06" cy="99.03" r="11.63" fill="url(#gb1)" />
<circle cx="1446.03" cy="24.29" r="11.82" fill="url(#gb0)" />
<circle cx="1387.14" cy="80.9" r="11.98" fill="url(#gy0)" />
<circle cx="1414.7" cy="121.67" r="11.95" fill="url(#gy0)" />
<circle cx="1400.82" cy="101.13" r="11.95" fill="url(#gb0)" />
<circle cx="1460.27" cy="44.26" r="11.95" fill="url(#gp0)" />
<circle cx="1421.73" cy="25.23" r="12.02" fill="url(#gb0)" />
<circle cx="1370.73" cy="27.21" r="12.83" fill="url(#gp0)" />
<circle cx="1396.64" cy="26.2" r="12.35" fill="url(#gp0)" />
<circle cx="1436.01" cy="45.53" r="12.09" fill="url(#gy1)" />
<circle cx="1450.5" cy="66.13" r="12.2" fill="url(#gy0)" />
<circle cx="1410.95" cy="46.84" r="12.36" fill="url(#gy1)" />
<circle cx="1385.07" cy="48.19" r="12.78" fill="url(#gb0)" />
<circle cx="1425.49" cy="67.79" r="12.4" fill="url(#gy1)" />
<circle cx="1440.26" cy="89.08" r="12.48" fill="url(#gp0)" />
<circle cx="1399.64" cy="69.51" r="12.75" fill="url(#gp0)" />
<circle cx="1429.5" cy="113.18" r="12.8" fill="url(#gy0)" />
<circle cx="1414.45" cy="91.17" r="12.75" fill="url(#gy0)" />
<circle cx="1452.71" cy="31.02" r="13.04" fill="url(#gy0)" />
<circle cx="1425.99" cy="32.18" r="13.26" fill="url(#gp0)" />
<circle cx="1398.31" cy="33.38" r="13.66" fill="url(#gy0)" />
<circle cx="1441.8" cy="54.67" r="13.36" fill="url(#gp0)" />
<circle cx="1414.17" cy="56.28" r="13.67" fill="url(#gy0)" />
<circle cx="1430.3" cy="79.59" r="13.72" fill="url(#gy0)" />
<circle cx="1431.23" cy="40.74" r="14.8" fill="url(#gp0)" />
<line x1="1434.68" y1="34.57" x2="1344.52" y2="16.07" stroke="#000" stroke-width="0.95" stroke-dasharray="3.2 2.4"/>
<line x1="1431.39" y1="144.45" x2="1356.5" y2="106.87" stroke="#000" stroke-width="0.95" stroke-dasharray="3.2 2.4"/>
<line x1="1434.68" y1="34.57" x2="1431.39" y2="144.45" stroke="#000" stroke-width="0.95" />
<line x1="1344.52" y1="16.07" x2="1356.5" y2="106.87" stroke="#000" stroke-width="0.95" stroke-dasharray="3.2 2.4"/>
<line x1="1434.68" y1="34.57" x2="1488.62" y2="11.57" stroke="#000" stroke-width="0.95" stroke-dasharray="3.2 2.4"/>
<line x1="1488.62" y1="11.57" x2="1411.52" y2="1.86" stroke="#000" stroke-width="0.95" stroke-dasharray="3.2 2.4"/>
<line x1="1344.52" y1="16.07" x2="1411.52" y2="1.86" stroke="#000" stroke-width="0.95" stroke-dasharray="3.2 2.4"/>
<line x1="1488.62" y1="11.57" x2="1478.11" y2="96.2" stroke="#000" stroke-width="0.95" stroke-dasharray="3.2 2.4"/>
<line x1="1431.39" y1="144.45" x2="1478.11" y2="96.2" stroke="#000" stroke-width="0.95" />
<line x1="1621.5" y1="106.87" x2="1677.4" y2="74.46" stroke="#000" stroke-width="0.95" stroke-dasharray="3.2 2.4"/>
<line x1="1743.11" y1="96.2" x2="1677.4" y2="74.46" stroke="#000" stroke-width="0.95" stroke-dasharray="3.2 2.4"/>
<line x1="1676.52" y1="1.86" x2="1677.4" y2="74.46" stroke="#000" stroke-width="0.95" stroke-dasharray="3.2 2.4"/>
<circle cx="1678.24" cy="61.41" r="8.54" fill="url(#gy2)" />
<circle cx="1688.3" cy="75.96" r="8.56" fill="url(#gy2)" />
<circle cx="1670.51" cy="77.24" r="8.72" fill="url(#gy2)" />
<circle cx="1678" cy="37.17" r="8.94" fill="url(#gp2)" />
<circle cx="1688.53" cy="52.28" r="8.97" fill="url(#gp2)" />
<circle cx="1699.17" cy="67.55" r="9.01" fill="url(#gb2)" />
<circle cx="1709.94" cy="83" r="9.08" fill="url(#gy2)" />
<circle cx="1669.89" cy="53.33" r="9.13" fill="url(#gp2)" />
<circle cx="1677.73" cy="10.54" r="9.39" fill="url(#gy0)" />
<circle cx="1680.56" cy="68.79" r="9.15" fill="url(#gy2)" />
<circle cx="1691.35" cy="84.44" r="9.18" fill="url(#gy2)" />
<circle cx="1661.49" cy="70.06" r="9.35" fill="url(#gb2)" />
<circle cx="1672.31" cy="85.91" r="9.35" fill="url(#gp2)" />
<circle cx="1688.78" cy="26.24" r="9.42" fill="url(#gp1)" />
<circle cx="1652.78" cy="87.41" r="9.59" fill="url(#gy2)" />
<circle cx="1669.21" cy="27.01" r="9.6" fill="url(#gp1)" />
<circle cx="1699.96" cy="42.12" r="9.46" fill="url(#gb2)" />
<circle cx="1734.32" cy="90.93" r="9.75" fill="url(#gp0)" />
<circle cx="1711.27" cy="58.19" r="9.53" fill="url(#gb2)" />
<circle cx="1722.72" cy="74.46" r="9.63" fill="url(#gp1)" />
<circle cx="1680.42" cy="43.1" r="9.61" fill="url(#gp2)" />
<circle cx="1660.37" cy="44.1" r="9.83" fill="url(#gp2)" />
<circle cx="1691.76" cy="59.38" r="9.65" fill="url(#gb2)" />
<circle cx="1714.86" cy="92.56" r="9.79" fill="url(#gb1)" />
<circle cx="1703.24" cy="75.87" r="9.7" fill="url(#gb2)" />
<circle cx="1700.83" cy="14.01" r="9.96" fill="url(#gy0)" />
<circle cx="1671.73" cy="60.6" r="9.83" fill="url(#gy2)" />
<circle cx="1651.18" cy="61.86" r="10.1" fill="url(#gy2)" />
<circle cx="1683.24" cy="77.31" r="9.85" fill="url(#gb2)" />
<circle cx="1680.25" cy="14.66" r="10.13" fill="url(#gb0)" />
<circle cx="1694.89" cy="94.23" r="9.89" fill="url(#gb2)" />
<circle cx="1712.75" cy="30.75" r="10.04" fill="url(#gb1)" />
<circle cx="1641.63" cy="80.31" r="10.4" fill="url(#gy1)" />
<circle cx="1662.71" cy="78.79" r="10.08" fill="url(#gp2)" />
<circle cx="1659.12" cy="15.33" r="10.37" fill="url(#gb0)" />
<circle cx="1724.82" cy="47.71" r="10.14" fill="url(#gy1)" />
<circle cx="1631.69" cy="99.52" r="10.76" fill="url(#gp0)" />
<circle cx="1674.38" cy="95.94" r="10.08" fill="url(#gy2)" />
<circle cx="1737.05" cy="64.89" r="10.27" fill="url(#gb0)" />
<circle cx="1653.33" cy="97.71" r="10.37" fill="url(#gy1)" />
<circle cx="1692.2" cy="31.64" r="10.16" fill="url(#gb1)" />
<circle cx="1671.1" cy="32.54" r="10.37" fill="url(#gb1)" />
<circle cx="1704.3" cy="48.83" r="10.23" fill="url(#gy2)" />
<circle cx="1649.4" cy="33.48" r="10.66" fill="url(#gy1)" />
<circle cx="1728.99" cy="83.9" r="10.44" fill="url(#gy0)" />
<circle cx="1716.57" cy="66.25" r="10.32" fill="url(#gy1)" />
<circle cx="1727.15" cy="17.96" r="10.71" fill="url(#gy0)" />
<circle cx="1683.23" cy="49.98" r="10.39" fill="url(#gy2)" />
<circle cx="1720.59" cy="103.7" r="10.62" fill="url(#gy0)" />
<circle cx="1740.08" cy="35.91" r="10.86" fill="url(#gb0)" />
<circle cx="1639.28" cy="52.38" r="10.99" fill="url(#gb1)" />
<circle cx="1661.56" cy="51.17" r="10.64" fill="url(#gp2)" />
<circle cx="1695.52" cy="67.65" r="10.43" fill="url(#gb2)" />
<circle cx="1707.97" cy="85.56" r="10.51" fill="url(#gb1)" />
<circle cx="1705.5" cy="18.71" r="10.81" fill="url(#gb0)" />
<circle cx="1628.72" cy="72.1" r="11.38" fill="url(#gy0)" />
<circle cx="1673.88" cy="69.09" r="10.64" fill="url(#gp2)" />
<circle cx="1699.02" cy="105.67" r="10.72" fill="url(#gy1)" />
<circle cx="1651.62" cy="70.57" r="10.96" fill="url(#gp1)" />
<circle cx="1686.36" cy="87.26" r="10.67" fill="url(#gy2)" />
<circle cx="1718.47" cy="36.93" r="10.91" fill="url(#gy1)" />
<circle cx="1641.25" cy="90.81" r="11.33" fill="url(#gy0)" />
<circle cx="1664.13" cy="89.01" r="10.94" fill="url(#gy1)" />
<circle cx="1683.21" cy="19.49" r="10.99" fill="url(#gb0)" />
<circle cx="1676.82" cy="107.7" r="10.93" fill="url(#gb1)" />
<circle cx="1731.62" cy="55.39" r="11.04" fill="url(#gy0)" />
<circle cx="1653.96" cy="109.79" r="11.28" fill="url(#gp0)" />
<circle cx="1636.64" cy="21.12" r="11.66" fill="url(#gb0)" />
<circle cx="1660.27" cy="20.29" r="11.27" fill="url(#gy0)" />
<circle cx="1696.22" cy="37.98" r="11.04" fill="url(#gy1)" />
<circle cx="1709.41" cy="56.72" r="11.12" fill="url(#gb1)" />
<circle cx="1625.38" cy="41.32" r="12.09" fill="url(#gy0)" />
<circle cx="1722.79" cy="75.74" r="11.25" fill="url(#gp0)" />
<circle cx="1673.31" cy="39.06" r="11.28" fill="url(#gy1)" />
<circle cx="1649.71" cy="40.17" r="11.62" fill="url(#gy1)" />
<circle cx="1734.58" cy="23.38" r="11.72" fill="url(#gb0)" />
<circle cx="1686.54" cy="58.1" r="11.3" fill="url(#gp2)" />
<circle cx="1713.56" cy="97" r="11.47" fill="url(#gb0)" />
<circle cx="1699.95" cy="77.41" r="11.36" fill="url(#gb1)" />
<circle cx="1638.66" cy="60.97" r="12.03" fill="url(#gb0)" />
<circle cx="1662.96" cy="59.51" r="11.6" fill="url(#gy1)" />
<circle cx="1703.91" cy="119.23" r="11.71" fill="url(#gy0)" />
<circle cx="1676.41" cy="79.13" r="11.6" fill="url(#gp1)" />
<circle cx="1690.06" cy="99.03" r="11.63" fill="url(#gb1)" />
<circle cx="1711.03" cy="24.29" r="11.82" fill="url(#gb0)" />
<circle cx="1652.14" cy="80.9" r="11.98" fill="url(#gb0)" />
<circle cx="1679.7" cy="121.67" r="11.95" fill="url(#gp0)" />
<circle cx="1665.82" cy="101.13" r="11.95" fill="url(#gb0)" />
<circle cx="1725.27" cy="44.26" r="11.95" fill="url(#gy0)" />
<circle cx="1686.73" cy="25.23" r="12.02" fill="url(#gy0)" />
<circle cx="1635.73" cy="27.21" r="12.83" fill="url(#gp0)" />
<circle cx="1661.64" cy="26.2" r="12.35" fill="url(#gp0)" />
<circle cx="1701.01" cy="45.53" r="12.09" fill="url(#gp1)" />
<circle cx="1715.5" cy="66.13" r="12.2" fill="url(#gp0)" />
<circle cx="1675.95" cy="46.84" r="12.36" fill="url(#gp1)" />
<circle cx="1650.07" cy="48.19" r="12.78" fill="url(#gy0)" />
<circle cx="1690.49" cy="67.79" r="12.4" fill="url(#gy1)" />
<circle cx="1705.26" cy="89.08" r="12.48" fill="url(#gp0)" />
<circle cx="1664.64" cy="69.51" r="12.75" fill="url(#gp0)" />
<circle cx="1694.5" cy="113.18" r="12.8" fill="url(#gy0)" />
<circle cx="1679.45" cy="91.17" r="12.75" fill="url(#gp0)" />
<circle cx="1717.71" cy="31.02" r="13.04" fill="url(#gy0)" />
<circle cx="1690.99" cy="32.18" r="13.26" fill="url(#gp0)" />
<circle cx="1663.31" cy="33.38" r="13.66" fill="url(#gp0)" />
<circle cx="1706.8" cy="54.67" r="13.36" fill="url(#gb0)" />
<circle cx="1679.17" cy="56.28" r="13.67" fill="url(#gy0)" />
<circle cx="1695.3" cy="79.59" r="13.72" fill="url(#gb0)" />
<circle cx="1696.23" cy="40.74" r="14.8" fill="url(#gp0)" />
<line x1="1699.68" y1="34.57" x2="1609.52" y2="16.07" stroke="#000" stroke-width="0.95" stroke-dasharray="3.2 2.4"/>
<line x1="1696.39" y1="144.45" x2="1621.5" y2="106.87" stroke="#000" stroke-width="0.95" stroke-dasharray="3.2 2.4"/>
<line x1="1699.68" y1="34.57" x2="1696.39" y2="144.45" stroke="#000" stroke-width="0.95" />
<line x1="1609.52" y1="16.07" x2="1621.5" y2="106.87" stroke="#000" stroke-width="0.95" stroke-dasharray="3.2 2.4"/>
<line x1="1699.68" y1="34.57" x2="1753.62" y2="11.57" stroke="#000" stroke-width="0.95" stroke-dasharray="3.2 2.4"/>
<line x1="1753.62" y1="11.57" x2="1676.52" y2="1.86" stroke="#000" stroke-width="0.95" stroke-dasharray="3.2 2.4"/>
<line x1="1609.52" y1="16.07" x2="1676.52" y2="1.86" stroke="#000" stroke-width="0.95" stroke-dasharray="3.2 2.4"/>
<line x1="1753.62" y1="11.57" x2="1743.11" y2="96.2" stroke="#000" stroke-width="0.95" stroke-dasharray="3.2 2.4"/>
<line x1="1696.39" y1="144.45" x2="1743.11" y2="96.2" stroke="#000" stroke-width="0.95" />
<line x1="1868.3" y1="109.47" x2="1924.2" y2="77.06" stroke="#000" stroke-width="0.95" stroke-dasharray="3.2 2.4"/>
<line x1="1989.91" y1="98.8" x2="1924.2" y2="77.06" stroke="#000" stroke-width="0.95" stroke-dasharray="3.2 2.4"/>
<line x1="1923.32" y1="4.46" x2="1924.2" y2="77.06" stroke="#000" stroke-width="0.95" stroke-dasharray="3.2 2.4"/>
<circle cx="1925.04" cy="64.01" r="8.54" fill="url(#gb2)" />
<circle cx="1935.1" cy="78.56" r="8.56" fill="url(#gb2)" />
<circle cx="1917.31" cy="79.84" r="8.72" fill="url(#gp2)" />
<circle cx="1924.8" cy="39.77" r="8.94" fill="url(#gy2)" />
<circle cx="1935.33" cy="54.88" r="8.97" fill="url(#gp2)" />
<circle cx="1945.97" cy="70.15" r="9.01" fill="url(#gp2)" />
<circle cx="1956.74" cy="85.6" r="9.08" fill="url(#gy2)" />
<circle cx="1916.69" cy="55.93" r="9.13" fill="url(#gb2)" />
<circle cx="1924.53" cy="13.14" r="9.39" fill="url(#gy0)" />
<circle cx="1927.36" cy="71.39" r="9.15" fill="url(#gp2)" />
<circle cx="1938.15" cy="87.04" r="9.18" fill="url(#gy2)" />
<circle cx="1908.29" cy="72.66" r="9.35" fill="url(#gb2)" />
<circle cx="1919.11" cy="88.51" r="9.35" fill="url(#gy2)" />
<circle cx="1935.58" cy="28.84" r="9.42" fill="url(#gb1)" />
<circle cx="1899.58" cy="90.01" r="9.59" fill="url(#gy2)" />
<circle cx="1916.01" cy="29.61" r="9.6" fill="url(#gy1)" />
<circle cx="1946.76" cy="44.72" r="9.46" fill="url(#gp2)" />
<circle cx="1981.12" cy="93.53" r="9.75" fill="url(#gb0)" />
<circle cx="1958.07" cy="60.79" r="9.53" fill="url(#gp2)" />
<circle cx="1969.52" cy="77.06" r="9.63" fill="url(#gp1)" />
<circle cx="1927.22" cy="45.7" r="9.61" fill="url(#gy2)" />
<circle cx="1907.17" cy="46.7" r="9.83" fill="url(#gb2)" />
<circle cx="1938.56" cy="61.98" r="9.65" fill="url(#gp2)" />
<circle cx="1961.66" cy="95.16" r="9.79" fill="url(#gy1)" />
<circle cx="1950.04" cy="78.47" r="9.7" fill="url(#gb2)" />
<circle cx="1947.63" cy="16.61" r="9.96" fill="url(#gy0)" />
<circle cx="1918.53" cy="63.2" r="9.83" fill="url(#gy2)" />
<circle cx="1897.98" cy="64.46" r="10.1" fill="url(#gb2)" />
<circle cx="1930.04" cy="79.91" r="9.85" fill="url(#gp2)" />
<circle cx="1927.05" cy="17.26" r="10.13" fill="url(#gp0)" />
<circle cx="1941.69" cy="96.83" r="9.89" fill="url(#gb2)" />
<circle cx="1959.55" cy="33.35" r="10.04" fill="url(#gb1)" />
<circle cx="1888.43" cy="82.91" r="10.4" fill="url(#gy1)" />
<circle cx="1909.51" cy="81.39" r="10.08" fill="url(#gp2)" />
<circle cx="1905.92" cy="17.93" r="10.37" fill="url(#gb0)" />
<circle cx="1971.62" cy="50.31" r="10.14" fill="url(#gp1)" />
<circle cx="1878.49" cy="102.12" r="10.76" fill="url(#gb0)" />
<circle cx="1921.18" cy="98.54" r="10.08" fill="url(#gb2)" />
<circle cx="1983.85" cy="67.49" r="10.27" fill="url(#gp0)" />
<circle cx="1900.13" cy="100.31" r="10.37" fill="url(#gy1)" />
<circle cx="1939" cy="34.24" r="10.16" fill="url(#gp1)" />
<circle cx="1917.9" cy="35.14" r="10.37" fill="url(#gp1)" />
<circle cx="1951.1" cy="51.43" r="10.23" fill="url(#gb2)" />
<circle cx="1896.2" cy="36.08" r="10.66" fill="url(#gp1)" />
<circle cx="1975.79" cy="86.5" r="10.44" fill="url(#gy0)" />
<circle cx="1963.37" cy="68.85" r="10.32" fill="url(#gp1)" />
<circle cx="1973.95" cy="20.56" r="10.71" fill="url(#gy0)" />
<circle cx="1930.03" cy="52.58" r="10.39" fill="url(#gy2)" />
<circle cx="1967.39" cy="106.3" r="10.62" fill="url(#gp0)" />
<circle cx="1986.88" cy="38.51" r="10.86" fill="url(#gb0)" />
<circle cx="1886.08" cy="54.98" r="10.99" fill="url(#gp1)" />
<circle cx="1908.36" cy="53.77" r="10.64" fill="url(#gy2)" />
<circle cx="1942.32" cy="70.25" r="10.43" fill="url(#gy2)" />
<circle cx="1954.77" cy="88.16" r="10.51" fill="url(#gp1)" />
<circle cx="1952.3" cy="21.31" r="10.81" fill="url(#gp0)" />
<circle cx="1875.52" cy="74.7" r="11.38" fill="url(#gp0)" />
<circle cx="1920.68" cy="71.69" r="10.64" fill="url(#gp2)" />
<circle cx="1945.82" cy="108.27" r="10.72" fill="url(#gy1)" />
<circle cx="1898.42" cy="73.17" r="10.96" fill="url(#gy1)" />
<circle cx="1933.16" cy="89.86" r="10.67" fill="url(#gy2)" />
<circle cx="1965.27" cy="39.53" r="10.91" fill="url(#gy1)" />
<circle cx="1888.05" cy="93.41" r="11.33" fill="url(#gy0)" />
<circle cx="1910.93" cy="91.61" r="10.94" fill="url(#gp1)" />
<circle cx="1930.01" cy="22.09" r="10.99" fill="url(#gp0)" />
<circle cx="1923.62" cy="110.3" r="10.93" fill="url(#gb1)" />
<circle cx="1978.42" cy="57.99" r="11.04" fill="url(#gy0)" />
<circle cx="1900.76" cy="112.39" r="11.28" fill="url(#gp0)" />
<circle cx="1883.44" cy="23.72" r="11.66" fill="url(#gb0)" />
<circle cx="1907.07" cy="22.89" r="11.27" fill="url(#gb0)" />
<circle cx="1943.02" cy="40.58" r="11.04" fill="url(#gy1)" />
<circle cx="1956.21" cy="59.32" r="11.12" fill="url(#gy1)" />
<circle cx="1872.18" cy="43.92" r="12.09" fill="url(#gy0)" />
<circle cx="1969.59" cy="78.34" r="11.25" fill="url(#gp0)" />
<circle cx="1920.11" cy="41.66" r="11.28" fill="url(#gb1)" />
<circle cx="1896.51" cy="42.77" r="11.62" fill="url(#gp1)" />
<circle cx="1981.38" cy="25.98" r="11.72" fill="url(#gb0)" />
<circle cx="1933.34" cy="60.7" r="11.3" fill="url(#gp2)" />
<circle cx="1960.36" cy="99.6" r="11.47" fill="url(#gb0)" />
<circle cx="1946.75" cy="80.01" r="11.36" fill="url(#gb1)" />
<circle cx="1885.46" cy="63.57" r="12.03" fill="url(#gp0)" />
<circle cx="1909.76" cy="62.11" r="11.6" fill="url(#gy1)" />
<circle cx="1950.71" cy="121.83" r="11.71" fill="url(#gy0)" />
<circle cx="1923.21" cy="81.73" r="11.6" fill="url(#gp1)" />
<circle cx="1936.86" cy="101.63" r="11.63" fill="url(#gp1)" />
<circle cx="1957.83" cy="26.89" r="11.82" fill="url(#gb0)" />
<circle cx="1898.94" cy="83.5" r="11.98" fill="url(#gp0)" />
<circle cx="1926.5" cy="124.27" r="11.95" fill="url(#gb0)" />
<circle cx="1912.62" cy="103.73" r="11.95" fill="url(#gy0)" />
<circle cx="1972.07" cy="46.86" r="11.95" fill="url(#gy0)" />
<circle cx="1933.53" cy="27.83" r="12.02" fill="url(#gy0)" />
<circle cx="1882.53" cy="29.81" r="12.83" fill="url(#gb0)" />
<circle cx="1908.44" cy="28.8" r="12.35" fill="url(#gp0)" />
<circle cx="1947.81" cy="48.13" r="12.09" fill="url(#gy1)" />
<circle cx="1962.3" cy="68.73" r="12.2" fill="url(#gp0)" />
<circle cx="1922.75" cy="49.44" r="12.36" fill="url(#gb1)" />
<circle cx="1896.87" cy="50.79" r="12.78" fill="url(#gy0)" />
<circle cx="1937.29" cy="70.39" r="12.4" fill="url(#gy1)" />
<circle cx="1952.06" cy="91.68" r="12.48" fill="url(#gb0)" />
<circle cx="1911.44" cy="72.11" r="12.75" fill="url(#gb0)" />
<circle cx="1941.3" cy="115.78" r="12.8" fill="url(#gy0)" />
<circle cx="1926.25" cy="93.77" r="12.75" fill="url(#gp0)" />
<circle cx="1964.51" cy="33.62" r="13.04" fill="url(#gy0)" />
<circle cx="1937.79" cy="34.78" r="13.26" fill="url(#gb0)" />
<circle cx="1910.11" cy="35.98" r="13.66" fill="url(#gb0)" />
<circle cx="1953.6" cy="57.27" r="13.36" fill="url(#gp0)" />
<circle cx="1925.97" cy="58.88" r="13.67" fill="url(#gy0)" />
<circle cx="1942.1" cy="82.19" r="13.72" fill="url(#gp0)" />
<circle cx="1943.03" cy="43.34" r="14.8" fill="url(#gb0)" />
<line x1="1946.48" y1="37.17" x2="1856.32" y2="18.67" stroke="#000" stroke-width="0.95" stroke-dasharray="3.2 2.4"/>
<line x1="1943.19" y1="147.05" x2="1868.3" y2="109.47" stroke="#000" stroke-width="0.95" stroke-dasharray="3.2 2.4"/>
<line x1="1946.48" y1="37.17" x2="1943.19" y2="147.05" stroke="#000" stroke-width="0.95" />
<line x1="1856.32" y1="18.67" x2="1868.3" y2="109.47" stroke="#000" stroke-width="0.95" stroke-dasharray="3.2 2.4"/>
<line x1="1946.48" y1="37.17" x2="2000.42" y2="14.17" stroke="#000" stroke-width="0.95" stroke-dasharray="3.2 2.4"/>
<line x1="2000.42" y1="14.17" x2="1923.32" y2="4.46" stroke="#000" stroke-width="0.95" stroke-dasharray="3.2 2.4"/>
<line x1="1856.32" y1="18.67" x2="1923.32" y2="4.46" stroke="#000" stroke-width="0.95" stroke-dasharray="3.2 2.4"/>
<line x1="2000.42" y1="14.17" x2="1989.91" y2="98.8" stroke="#000" stroke-width="0.95" stroke-dasharray="3.2 2.4"/>
<line x1="1943.19" y1="147.05" x2="1989.91" y2="98.8" stroke="#000" stroke-width="0.95" />
<polygon points="1343.81,61.3 1250.11,60.44 1255.39,52.59 1224.3,61.8 1255.21,71.58 1250.08,63.64 1343.79,64.5" fill="#F35A5C" />
<polygon points="1635.06,114.88 1623.36,157.69 1617.11,150.59 1618.1,183 1635.44,155.6 1626.44,158.53 1638.14,115.72" fill="#F35A5C" />
<polygon points="1972.63,117.04 2001.4,182.8 1992.07,181.2 2013.2,205.8 2009.48,173.59 2004.33,181.52 1975.57,115.76" fill="#F35A5C" />
<text x="1021.5" y="409" font-family="'Liberation Sans', Arial, sans-serif" font-size="47" text-anchor="start" font-weight="bold" fill="#000" >c)</text>
<clipPath id="clipc"><rect x="1207.4" y="482.9" width="811.5999999999999" height="446.5"/></clipPath>
<g clip-path="url(#clipc)">
<polygon points="1207.3,503.47 1369.62,681.54 1531.94,686.75 1694.26,676.02 1856.58,719.55 2018.9,731.81 2018.9,813.03 1856.58,759.09 1694.26,761.54 1531.94,761.23 1369.62,729.36 1207.3,615.34" fill="#22ACFF" fill-opacity="0.3"/>
<polygon points="1207.3,749.89 1369.62,735.18 1531.94,829.89 1694.26,791.88 1856.58,785.75 2018.9,836.02 2018.9,874.33 1856.58,855.02 1694.26,861.15 1531.94,864.22 1369.62,763.68 1207.3,787.59" fill="#13A86B" fill-opacity="0.3"/>
<polygon points="1207.3,753.57 1369.62,864.22 1531.94,882.3 1694.26,873.41 1856.58,893.03 2018.9,890.27 2018.9,898.54 1856.58,900.69 1694.26,896.4 1531.94,899.77 1369.62,886.9 1207.3,839.08" fill="#FF1F8E" fill-opacity="0.3"/>
</g>
<line x1="1207.4" y1="929.5" x2="1219.7" y2="929.5" stroke="#000" stroke-width="2" />
<text x="1193.5" y="939.7" font-family="'DejaVu Sans', sans-serif" font-size="28.2" text-anchor="end" font-weight="normal" fill="#000" >0</text>
<line x1="1207.4" y1="914.17" x2="1213.9" y2="914.17" stroke="#000" stroke-width="2" />
<line x1="1207.4" y1="898.85" x2="1213.9" y2="898.85" stroke="#000" stroke-width="2" />
<line x1="1207.4" y1="883.52" x2="1213.9" y2="883.52" stroke="#000" stroke-width="2" />
<line x1="1207.4" y1="868.2" x2="1219.7" y2="868.2" stroke="#000" stroke-width="2" />
<text x="1193.5" y="878.4" font-family="'DejaVu Sans', sans-serif" font-size="28.2" text-anchor="end" font-weight="normal" fill="#000" >20</text>
<line x1="1207.4" y1="852.88" x2="1213.9" y2="852.88" stroke="#000" stroke-width="2" />
<line x1="1207.4" y1="837.55" x2="1213.9" y2="837.55" stroke="#000" stroke-width="2" />
<line x1="1207.4" y1="822.23" x2="1213.9" y2="822.23" stroke="#000" stroke-width="2" />
<line x1="1207.4" y1="806.9" x2="1219.7" y2="806.9" stroke="#000" stroke-width="2" />
<text x="1193.5" y="817.1" font-family="'DejaVu Sans', sans-serif" font-size="28.2" text-anchor="end" font-weight="normal" fill="#000" >40</text>
<line x1="1207.4" y1="791.58" x2="1213.9" y2="791.58" stroke="#000" stroke-width="2" />
<line x1="1207.4" y1="776.25" x2="1213.9" y2="776.25" stroke="#000" stroke-width="2" />
<line x1="1207.4" y1="760.92" x2="1213.9" y2="760.92" stroke="#000" stroke-width="2" />
<line x1="1207.4" y1="745.6" x2="1219.7" y2="745.6" stroke="#000" stroke-width="2" />
<text x="1193.5" y="755.8" font-family="'DejaVu Sans', sans-serif" font-size="28.2" text-anchor="end" font-weight="normal" fill="#000" >60</text>
<line x1="1207.4" y1="730.27" x2="1213.9" y2="730.27" stroke="#000" stroke-width="2" />
<line x1="1207.4" y1="714.95" x2="1213.9" y2="714.95" stroke="#000" stroke-width="2" />
<line x1="1207.4" y1="699.62" x2="1213.9" y2="699.62" stroke="#000" stroke-width="2" />
<line x1="1207.4" y1="684.3" x2="1219.7" y2="684.3" stroke="#000" stroke-width="2" />
<text x="1193.5" y="694.5" font-family="'DejaVu Sans', sans-serif" font-size="28.2" text-anchor="end" font-weight="normal" fill="#000" >80</text>
<line x1="1207.4" y1="668.98" x2="1213.9" y2="668.98" stroke="#000" stroke-width="2" />
<line x1="1207.4" y1="653.65" x2="1213.9" y2="653.65" stroke="#000" stroke-width="2" />
<line x1="1207.4" y1="638.33" x2="1213.9" y2="638.33" stroke="#000" stroke-width="2" />
<line x1="1207.4" y1="623" x2="1219.7" y2="623" stroke="#000" stroke-width="2" />
<text x="1193.5" y="633.2" font-family="'DejaVu Sans', sans-serif" font-size="28.2" text-anchor="end" font-weight="normal" fill="#000" >100</text>
<line x1="1207.4" y1="607.67" x2="1213.9" y2="607.67" stroke="#000" stroke-width="2" />
<line x1="1207.4" y1="592.35" x2="1213.9" y2="592.35" stroke="#000" stroke-width="2" />
<line x1="1207.4" y1="577.03" x2="1213.9" y2="577.03" stroke="#000" stroke-width="2" />
<line x1="1207.4" y1="561.7" x2="1219.7" y2="561.7" stroke="#000" stroke-width="2" />
<text x="1193.5" y="571.9" font-family="'DejaVu Sans', sans-serif" font-size="28.2" text-anchor="end" font-weight="normal" fill="#000" >120</text>
<line x1="1207.4" y1="546.38" x2="1213.9" y2="546.38" stroke="#000" stroke-width="2" />
<line x1="1207.4" y1="531.05" x2="1213.9" y2="531.05" stroke="#000" stroke-width="2" />
<line x1="1207.4" y1="515.73" x2="1213.9" y2="515.73" stroke="#000" stroke-width="2" />
<line x1="1207.4" y1="500.4" x2="1219.7" y2="500.4" stroke="#000" stroke-width="2" />
<text x="1193.5" y="510.6" font-family="'DejaVu Sans', sans-serif" font-size="28.2" text-anchor="end" font-weight="normal" fill="#000" >140</text>
<line x1="1207.4" y1="485.07" x2="1213.9" y2="485.07" stroke="#000" stroke-width="2" />
<line x1="1207.3" y1="929.4" x2="1207.3" y2="917.1" stroke="#000" stroke-width="2" />
<line x1="1207.3" y1="482.9" x2="1207.3" y2="495.2" stroke="#000" stroke-width="2" />
<text x="1207.3" y="964.7" font-family="'DejaVu Sans', sans-serif" font-size="28.2" text-anchor="middle" font-weight="normal" fill="#000" >10</text>
<text x="1207.3" y="463.4" font-family="'DejaVu Sans', sans-serif" font-size="28.2" text-anchor="middle" font-weight="normal" fill="#000" >235</text>
<line x1="1247.88" y1="929.4" x2="1247.88" y2="922.9" stroke="#000" stroke-width="2" />
<line x1="1247.88" y1="482.9" x2="1247.88" y2="489.4" stroke="#000" stroke-width="2" />
<line x1="1288.46" y1="929.4" x2="1288.46" y2="922.9" stroke="#000" stroke-width="2" />
<line x1="1288.46" y1="482.9" x2="1288.46" y2="489.4" stroke="#000" stroke-width="2" />
<line x1="1329.04" y1="929.4" x2="1329.04" y2="922.9" stroke="#000" stroke-width="2" />
<line x1="1329.04" y1="482.9" x2="1329.04" y2="489.4" stroke="#000" stroke-width="2" />
<line x1="1369.62" y1="929.4" x2="1369.62" y2="917.1" stroke="#000" stroke-width="2" />
<line x1="1369.62" y1="482.9" x2="1369.62" y2="495.2" stroke="#000" stroke-width="2" />
<text x="1369.62" y="964.7" font-family="'DejaVu Sans', sans-serif" font-size="28.2" text-anchor="middle" font-weight="normal" fill="#000" >12</text>
<text x="1369.62" y="463.4" font-family="'DejaVu Sans', sans-serif" font-size="28.2" text-anchor="middle" font-weight="normal" fill="#000" >248</text>
<line x1="1410.2" y1="929.4" x2="1410.2" y2="922.9" stroke="#000" stroke-width="2" />
<line x1="1410.2" y1="482.9" x2="1410.2" y2="489.4" stroke="#000" stroke-width="2" />
<line x1="1450.78" y1="929.4" x2="1450.78" y2="922.9" stroke="#000" stroke-width="2" />
<line x1="1450.78" y1="482.9" x2="1450.78" y2="489.4" stroke="#000" stroke-width="2" />
<line x1="1491.36" y1="929.4" x2="1491.36" y2="922.9" stroke="#000" stroke-width="2" />
<line x1="1491.36" y1="482.9" x2="1491.36" y2="489.4" stroke="#000" stroke-width="2" />
<line x1="1531.94" y1="929.4" x2="1531.94" y2="917.1" stroke="#000" stroke-width="2" />
<line x1="1531.94" y1="482.9" x2="1531.94" y2="495.2" stroke="#000" stroke-width="2" />
<text x="1531.94" y="964.7" font-family="'DejaVu Sans', sans-serif" font-size="28.2" text-anchor="middle" font-weight="normal" fill="#000" >14</text>
<text x="1531.94" y="463.4" font-family="'DejaVu Sans', sans-serif" font-size="28.2" text-anchor="middle" font-weight="normal" fill="#000" >343</text>
<line x1="1572.52" y1="929.4" x2="1572.52" y2="922.9" stroke="#000" stroke-width="2" />
<line x1="1572.52" y1="482.9" x2="1572.52" y2="489.4" stroke="#000" stroke-width="2" />
<line x1="1613.1" y1="929.4" x2="1613.1" y2="922.9" stroke="#000" stroke-width="2" />
<line x1="1613.1" y1="482.9" x2="1613.1" y2="489.4" stroke="#000" stroke-width="2" />
<line x1="1653.68" y1="929.4" x2="1653.68" y2="922.9" stroke="#000" stroke-width="2" />
<line x1="1653.68" y1="482.9" x2="1653.68" y2="489.4" stroke="#000" stroke-width="2" />
<line x1="1694.26" y1="929.4" x2="1694.26" y2="917.1" stroke="#000" stroke-width="2" />
<line x1="1694.26" y1="482.9" x2="1694.26" y2="495.2" stroke="#000" stroke-width="2" />
<text x="1694.26" y="964.7" font-family="'DejaVu Sans', sans-serif" font-size="28.2" text-anchor="middle" font-weight="normal" fill="#000" >16</text>
<text x="1694.26" y="463.4" font-family="'DejaVu Sans', sans-serif" font-size="28.2" text-anchor="middle" font-weight="normal" fill="#000" >383</text>
<line x1="1734.84" y1="929.4" x2="1734.84" y2="922.9" stroke="#000" stroke-width="2" />
<line x1="1734.84" y1="482.9" x2="1734.84" y2="489.4" stroke="#000" stroke-width="2" />
<line x1="1775.42" y1="929.4" x2="1775.42" y2="922.9" stroke="#000" stroke-width="2" />
<line x1="1775.42" y1="482.9" x2="1775.42" y2="489.4" stroke="#000" stroke-width="2" />
<line x1="1816" y1="929.4" x2="1816" y2="922.9" stroke="#000" stroke-width="2" />
<line x1="1816" y1="482.9" x2="1816" y2="489.4" stroke="#000" stroke-width="2" />
<line x1="1856.58" y1="929.4" x2="1856.58" y2="917.1" stroke="#000" stroke-width="2" />
<line x1="1856.58" y1="482.9" x2="1856.58" y2="495.2" stroke="#000" stroke-width="2" />
<text x="1856.58" y="964.7" font-family="'DejaVu Sans', sans-serif" font-size="28.2" text-anchor="middle" font-weight="normal" fill="#000" >18</text>
<text x="1856.58" y="463.4" font-family="'DejaVu Sans', sans-serif" font-size="28.2" text-anchor="middle" font-weight="normal" fill="#000" >526</text>
<line x1="1897.16" y1="929.4" x2="1897.16" y2="922.9" stroke="#000" stroke-width="2" />
<line x1="1897.16" y1="482.9" x2="1897.16" y2="489.4" stroke="#000" stroke-width="2" />
<line x1="1937.74" y1="929.4" x2="1937.74" y2="922.9" stroke="#000" stroke-width="2" />
<line x1="1937.74" y1="482.9" x2="1937.74" y2="489.4" stroke="#000" stroke-width="2" />
<line x1="1978.32" y1="929.4" x2="1978.32" y2="922.9" stroke="#000" stroke-width="2" />
<line x1="1978.32" y1="482.9" x2="1978.32" y2="489.4" stroke="#000" stroke-width="2" />
<line x1="2018.9" y1="929.4" x2="2018.9" y2="917.1" stroke="#000" stroke-width="2" />
<line x1="2018.9" y1="482.9" x2="2018.9" y2="495.2" stroke="#000" stroke-width="2" />
<text x="2018.9" y="964.7" font-family="'DejaVu Sans', sans-serif" font-size="28.2" text-anchor="middle" font-weight="normal" fill="#000" >20</text>
<text x="2018.9" y="463.4" font-family="'DejaVu Sans', sans-serif" font-size="28.2" text-anchor="middle" font-weight="normal" fill="#000" >651</text>
<g clip-path="url(#clipc)">
<polyline points="1207.3,552.2 1369.62,705.14 1531.94,724.76 1694.26,718.32 1856.58,740.08 2018.9,772.88" fill="none" stroke="#22ACFF" stroke-width="4.2" stroke-linejoin="round"/>
<circle cx="1207.3" cy="552.2" r="8.2" fill="#22ACFF" />
<circle cx="1369.62" cy="705.14" r="8.2" fill="#22ACFF" />
<circle cx="1531.94" cy="724.76" r="8.2" fill="#22ACFF" />
<circle cx="1694.26" cy="718.32" r="8.2" fill="#22ACFF" />
<circle cx="1856.58" cy="740.08" r="8.2" fill="#22ACFF" />
<circle cx="2018.9" cy="772.88" r="8.2" fill="#22ACFF" />
<polyline points="1207.3,770.43 1369.62,749.89 1531.94,847.05 1694.26,826.52 1856.58,819.77 2018.9,856.55" fill="none" stroke="#13A86B" stroke-width="4.2" stroke-linejoin="round"/>
<circle cx="1207.3" cy="770.43" r="8.2" fill="#13A86B" />
<circle cx="1369.62" cy="749.89" r="8.2" fill="#13A86B" />
<circle cx="1531.94" cy="847.05" r="8.2" fill="#13A86B" />
<circle cx="1694.26" cy="826.52" r="8.2" fill="#13A86B" />
<circle cx="1856.58" cy="819.77" r="8.2" fill="#13A86B" />
<circle cx="2018.9" cy="856.55" r="8.2" fill="#13A86B" />
<polyline points="1207.3,793.41 1369.62,875.56 1531.94,891.49 1694.26,885.67 1856.58,897.01 2018.9,894.25" fill="none" stroke="#FF1F8E" stroke-width="4.2" stroke-linejoin="round"/>
<circle cx="1207.3" cy="793.41" r="8.2" fill="#FF1F8E" />
<circle cx="1369.62" cy="875.56" r="8.2" fill="#FF1F8E" />
<circle cx="1531.94" cy="891.49" r="8.2" fill="#FF1F8E" />
<circle cx="1694.26" cy="885.67" r="8.2" fill="#FF1F8E" />
<circle cx="1856.58" cy="897.01" r="8.2" fill="#FF1F8E" />
<circle cx="2018.9" cy="894.25" r="8.2" fill="#FF1F8E" />
</g>
<rect x="1207.4" y="482.9" width="811.5999999999999" height="446.5" fill="none" stroke="#000" stroke-width="2.5"/>
<text x="1612.2" y="997.3" font-family="'DejaVu Sans', sans-serif" font-size="31.8" text-anchor="middle" font-weight="normal" fill="#000" >MLP capacity [lev<tspan font-size="22.7" dy="5.5">max</tspan><tspan dy="-5.5">]</tspan></text>
<text x="1613.9" y="426.3" font-family="'DejaVu Sans', sans-serif" font-size="31.7" text-anchor="middle" font-weight="normal" fill="#000" >Number of independent parameters</text>
<text transform="translate(1131.2,706.2) rotate(-90)" font-family="'DejaVu Sans', sans-serif" font-size="31.7" text-anchor="middle" fill="#000"><tspan font-style="italic">ε</tspan><tspan font-size="22" dy="-12.3" font-style="italic">SRO</tspan><tspan dy="12.3"> [%]</tspan></text>
<line x1="1829" y1="525.1" x2="1896.2" y2="525.1" stroke="#22ACFF" stroke-width="4.2" />
<circle cx="1862.3" cy="525.1" r="8.2" fill="#22ACFF" />
<text x="1919.2" y="536.1" font-family="'DejaVu Sans', sans-serif" font-size="31.7" text-anchor="start" font-weight="normal" fill="#000" >TS-0</text>
<line x1="1829" y1="571.3" x2="1896.2" y2="571.3" stroke="#13A86B" stroke-width="4.2" />
<circle cx="1862.3" cy="571.3" r="8.2" fill="#13A86B" />
<text x="1919.2" y="582.3" font-family="'DejaVu Sans', sans-serif" font-size="31.7" text-anchor="start" font-weight="normal" fill="#000" >TS-1</text>
<line x1="1829" y1="618" x2="1896.2" y2="618" stroke="#FF1F8E" stroke-width="4.2" />
<circle cx="1862.3" cy="618" r="8.2" fill="#FF1F8E" />
<text x="1919.2" y="629" font-family="'DejaVu Sans', sans-serif" font-size="31.7" text-anchor="start" font-weight="normal" fill="#000" >TS-2</text>
</svg></body></html>
